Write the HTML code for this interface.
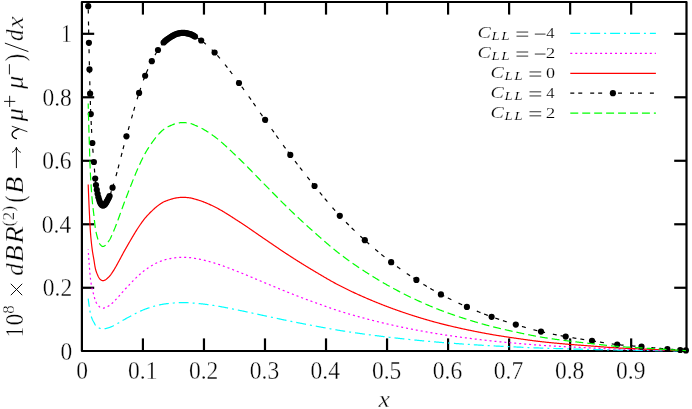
<!DOCTYPE html>
<html><head><meta charset="utf-8"><title>plot</title>
<style>html,body{margin:0;padding:0;background:#fff;}body{width:692px;height:409px;overflow:hidden;position:relative;font-family:"Liberation Serif",serif;}</style>
</head><body>
<svg width="692" height="409" viewBox="0 0 692 409" style="position:absolute;left:0;top:0;will-change:transform">
<rect x="0" y="0" width="692" height="409" fill="#fff"/>
<rect x="81.9" y="2.0" width="604.6" height="349.0" fill="none" stroke="#000" stroke-width="2.2" stroke-linejoin="round"/>
<g stroke="#000" stroke-width="2.2">
<line x1="142.93" y1="351.0" x2="142.93" y2="338.4"/>
<line x1="142.93" y1="2.0" x2="142.93" y2="14.6"/>
<line x1="203.96" y1="351.0" x2="203.96" y2="338.4"/>
<line x1="203.96" y1="2.0" x2="203.96" y2="14.6"/>
<line x1="264.99" y1="351.0" x2="264.99" y2="338.4"/>
<line x1="264.99" y1="2.0" x2="264.99" y2="14.6"/>
<line x1="326.02" y1="351.0" x2="326.02" y2="338.4"/>
<line x1="326.02" y1="2.0" x2="326.02" y2="14.6"/>
<line x1="387.05" y1="351.0" x2="387.05" y2="338.4"/>
<line x1="387.05" y1="2.0" x2="387.05" y2="14.6"/>
<line x1="448.08" y1="351.0" x2="448.08" y2="338.4"/>
<line x1="448.08" y1="2.0" x2="448.08" y2="14.6"/>
<line x1="509.11" y1="351.0" x2="509.11" y2="338.4"/>
<line x1="509.11" y1="2.0" x2="509.11" y2="14.6"/>
<line x1="570.14" y1="351.0" x2="570.14" y2="338.4"/>
<line x1="570.14" y1="2.0" x2="570.14" y2="14.6"/>
<line x1="631.17" y1="351.0" x2="631.17" y2="338.4"/>
<line x1="631.17" y1="2.0" x2="631.17" y2="14.6"/>
<line x1="81.9" y1="287.76" x2="94.2" y2="287.76"/>
<line x1="686.5" y1="287.76" x2="674.2" y2="287.76"/>
<line x1="81.9" y1="224.27" x2="94.2" y2="224.27"/>
<line x1="686.5" y1="224.27" x2="674.2" y2="224.27"/>
<line x1="81.9" y1="160.78" x2="94.2" y2="160.78"/>
<line x1="686.5" y1="160.78" x2="674.2" y2="160.78"/>
<line x1="81.9" y1="97.29" x2="94.2" y2="97.29"/>
<line x1="686.5" y1="97.29" x2="674.2" y2="97.29"/>
<line x1="81.9" y1="33.80" x2="94.2" y2="33.80"/>
<line x1="686.5" y1="33.80" x2="674.2" y2="33.80"/>
</g>
<g fill="none" stroke-width="1.2" stroke-linejoin="round">
<path d="M88.20,298.59 L88.30,299.44 L88.40,300.27 L88.50,301.09 L88.60,301.88 L88.70,302.66 L88.80,303.42 L88.90,304.15 L89.00,304.87 L89.10,305.56 L89.20,306.24 L89.30,306.90 L89.40,307.55 L89.50,308.20 L89.60,308.85 L89.70,309.50 L89.80,310.14 L89.90,310.76 L90.00,311.35 L90.10,311.89 L90.20,312.40 L90.30,312.89 L90.40,313.36 L90.50,313.80 L90.60,314.22 L90.70,314.62 L90.80,314.99 L90.90,315.34 L91.00,315.68 L91.10,316.01 L91.20,316.33 L91.30,316.64 L91.40,316.94 L91.50,317.23 L91.60,317.51 L91.70,317.78 L91.80,318.05 L91.90,318.31 L92.00,318.56 L92.10,318.80 L92.20,319.04 L92.30,319.27 L92.40,319.50 L92.50,319.71 L92.60,319.92 L92.70,320.11 L92.80,320.31 L92.90,320.49 L93.00,320.67 L93.10,320.85 L93.20,321.03 L93.30,321.20 L93.40,321.37 L93.50,321.55 L93.60,321.72 L93.70,321.90 L93.80,322.09 L93.90,322.27 L94.00,322.47 L94.10,322.66 L94.20,322.87 L94.30,323.08 L94.40,323.28 L94.50,323.49 L94.60,323.70 L94.70,323.90 L94.80,324.09 L94.90,324.28 L95.00,324.46 L95.10,324.63 L95.20,324.78 L95.30,324.92 L95.40,325.06 L95.50,325.19 L95.60,325.32 L95.70,325.44 L95.80,325.55 L95.90,325.66 L96.00,325.77 L96.10,325.87 L96.20,325.97 L96.30,326.07 L96.40,326.16 L96.50,326.25 L96.60,326.33 L96.70,326.42 L96.80,326.50 L96.90,326.58 L97.00,326.66 L97.10,326.74 L97.20,326.81 L97.30,326.89 L97.40,326.97 L97.50,327.04 L97.60,327.11 L97.70,327.18 L97.80,327.25 L97.90,327.32 L98.00,327.39 L98.10,327.45 L98.20,327.51 L98.30,327.57 L98.40,327.63 L98.50,327.68 L98.60,327.74 L98.70,327.79 L98.80,327.84 L98.90,327.89 L99.00,327.95 L99.10,328.00 L99.20,328.05 L99.30,328.09 L99.40,328.14 L99.50,328.19 L99.60,328.23 L99.70,328.27 L99.80,328.31 L99.90,328.35 L100.00,328.39 L100.10,328.42 L100.20,328.46 L100.30,328.48 L100.40,328.51 L100.50,328.53 L100.60,328.56 L100.70,328.58 L100.80,328.60 L100.90,328.62 L101.00,328.64 L101.10,328.66 L101.20,328.68 L101.30,328.70 L101.40,328.72 L101.50,328.74 L101.60,328.76 L101.70,328.78 L101.80,328.79 L101.90,328.81 L102.00,328.82 L102.10,328.83 L102.20,328.84 L102.30,328.85 L102.40,328.86 L102.50,328.87 L102.60,328.88 L102.70,328.88 L102.80,328.88 L102.90,328.88 L103.00,328.88 L103.10,328.88 L103.20,328.88 L103.30,328.87 L103.40,328.87 L103.50,328.86 L103.60,328.85 L103.70,328.85 L103.80,328.84 L103.90,328.83 L104.00,328.81 L104.10,328.80 L104.20,328.79 L104.30,328.78 L104.40,328.77 L104.50,328.75 L104.60,328.74 L104.70,328.73 L104.80,328.71 L104.90,328.70 L105.00,328.69 L105.10,328.67 L105.20,328.66 L105.30,328.64 L105.40,328.62 L105.50,328.60 L105.60,328.58 L105.70,328.56 L105.80,328.54 L105.90,328.51 L106.00,328.49 L106.10,328.46 L106.20,328.44 L106.30,328.41 L106.40,328.39 L106.50,328.36 L106.60,328.33 L106.70,328.30 L106.80,328.27 L106.90,328.25 L107.00,328.22 L107.10,328.19 L107.20,328.16 L107.30,328.13 L107.40,328.11 L107.50,328.08 L107.60,328.05 L107.70,328.02 L107.80,328.00 L107.90,327.97 L108.00,327.94 L108.10,327.91 L108.20,327.88 L108.30,327.86 L108.40,327.83 L108.50,327.80 L108.60,327.77 L108.70,327.74 L108.80,327.71 L108.90,327.68 L109.00,327.64 L109.10,327.61 L109.20,327.58 L109.30,327.55 L109.40,327.51 L109.50,327.48 L109.60,327.44 L109.70,327.41 L109.80,327.37 L109.90,327.34 L110.00,327.30 L110.10,327.26 L110.20,327.22 L110.30,327.18 L110.40,327.14 L110.50,327.10 L110.60,327.06 L110.70,327.02 L110.80,326.98 L110.90,326.93 L111.00,326.89 L111.10,326.84 L111.20,326.80 L111.30,326.76 L111.40,326.71 L111.50,326.66 L111.60,326.62 L111.70,326.57 L111.80,326.53 L111.90,326.48 L112.00,326.43 L112.50,326.19 L113.00,325.95 L113.50,325.71 L114.00,325.45 L114.50,325.19 L115.00,324.93 L115.50,324.66 L116.00,324.39 L116.50,324.11 L117.00,323.83 L117.50,323.54 L118.00,323.25 L118.50,322.96 L119.00,322.67 L119.50,322.38 L120.00,322.08 L120.50,321.79 L121.00,321.49 L121.50,321.20 L122.00,320.90 L122.50,320.61 L123.00,320.32 L123.50,320.03 L124.00,319.74 L124.50,319.45 L125.00,319.17 L125.50,318.89 L126.00,318.61 L126.50,318.34 L127.00,318.07 L127.50,317.80 L128.00,317.53 L128.50,317.25 L129.00,316.98 L129.50,316.71 L130.00,316.44 L130.50,316.17 L131.00,315.90 L131.50,315.63 L132.00,315.36 L132.50,315.10 L133.00,314.83 L133.50,314.57 L134.00,314.31 L134.50,314.05 L135.00,313.79 L135.50,313.53 L136.00,313.28 L136.50,313.03 L137.00,312.78 L137.50,312.53 L138.00,312.29 L138.50,312.05 L139.00,311.82 L139.50,311.58 L140.00,311.35 L140.50,311.12 L141.00,310.90 L141.50,310.67 L142.00,310.45 L142.50,310.23 L143.00,310.02 L143.50,309.81 L144.00,309.61 L144.50,309.41 L145.00,309.22 L145.50,309.03 L146.00,308.85 L146.50,308.67 L147.00,308.49 L147.50,308.32 L148.00,308.15 L148.50,307.99 L149.00,307.82 L149.50,307.66 L150.00,307.50 L150.50,307.35 L151.00,307.19 L151.50,307.04 L152.00,306.89 L152.50,306.74 L153.00,306.59 L153.50,306.45 L154.00,306.30 L154.50,306.16 L155.00,306.02 L155.50,305.88 L156.00,305.75 L156.50,305.62 L157.00,305.49 L157.50,305.37 L158.00,305.25 L158.50,305.13 L159.00,305.02 L159.50,304.90 L160.00,304.79 L160.50,304.69 L161.00,304.58 L161.50,304.48 L162.00,304.38 L162.50,304.29 L163.00,304.21 L163.50,304.12 L164.00,304.05 L164.50,303.97 L165.00,303.91 L165.50,303.84 L166.00,303.78 L166.50,303.72 L167.00,303.66 L167.50,303.60 L168.00,303.55 L168.50,303.49 L169.00,303.44 L169.50,303.39 L170.00,303.34 L170.50,303.29 L171.00,303.24 L171.50,303.19 L172.00,303.15 L172.50,303.11 L173.00,303.06 L173.50,303.02 L174.00,302.98 L174.50,302.94 L175.00,302.90 L175.50,302.87 L176.00,302.84 L176.50,302.81 L177.00,302.79 L177.50,302.77 L178.00,302.75 L178.50,302.73 L179.00,302.71 L179.50,302.69 L180.00,302.67 L180.50,302.66 L181.00,302.65 L181.50,302.64 L182.00,302.64 L182.50,302.63 L183.00,302.63 L183.50,302.64 L184.00,302.64 L184.50,302.65 L185.00,302.66 L185.50,302.67 L186.00,302.68 L186.50,302.69 L187.00,302.71 L187.50,302.72 L188.00,302.74 L188.50,302.76 L189.00,302.78 L189.50,302.79 L190.00,302.81 L190.50,302.84 L191.00,302.87 L191.50,302.90 L192.00,302.94 L192.50,302.98 L193.00,303.03 L193.50,303.07 L194.00,303.12 L194.50,303.16 L195.00,303.21 L195.50,303.25 L196.00,303.29 L196.50,303.34 L197.00,303.38 L197.50,303.43 L198.00,303.48 L198.50,303.52 L199.00,303.57 L199.50,303.62 L200.00,303.68 L200.50,303.73 L201.00,303.78 L201.50,303.84 L202.00,303.89 L202.50,303.95 L203.00,304.01 L203.50,304.07 L204.00,304.13 L204.50,304.19 L205.00,304.26 L205.50,304.32 L206.00,304.38 L206.50,304.45 L207.00,304.52 L207.50,304.59 L208.00,304.65 L208.50,304.72 L209.00,304.79 L209.50,304.86 L210.00,304.94 L210.50,305.01 L211.00,305.08 L211.50,305.16 L212.00,305.23 L212.50,305.31 L213.00,305.38 L213.50,305.46 L214.00,305.53 L214.50,305.61 L215.00,305.69 L215.50,305.77 L216.00,305.85 L216.50,305.93 L217.00,306.02 L217.50,306.10 L218.00,306.18 L218.50,306.27 L219.00,306.36 L219.50,306.44 L220.00,306.53 L220.50,306.62 L221.00,306.71 L221.50,306.80 L222.00,306.89 L222.50,306.99 L223.00,307.08 L223.50,307.17 L224.00,307.27 L224.50,307.36 L225.00,307.46 L225.50,307.56 L226.00,307.65 L226.50,307.75 L227.00,307.85 L227.50,307.95 L228.00,308.04 L228.50,308.14 L229.00,308.24 L229.50,308.34 L230.00,308.44 L230.50,308.54 L231.00,308.64 L231.50,308.74 L232.00,308.85 L232.50,308.95 L233.00,309.05 L233.50,309.15 L234.00,309.25 L234.50,309.35 L235.00,309.45 L235.50,309.56 L236.00,309.66 L236.50,309.76 L237.00,309.86 L237.50,309.96 L238.00,310.06 L238.50,310.16 L239.00,310.26 L239.50,310.36 L240.00,310.47 L240.50,310.57 L241.00,310.67 L241.50,310.77 L242.00,310.88 L242.50,310.98 L243.00,311.08 L243.50,311.19 L244.00,311.29 L244.50,311.40 L245.00,311.50 L245.50,311.61 L246.00,311.72 L246.50,311.82 L247.00,311.93 L247.50,312.04 L248.00,312.15 L248.50,312.25 L249.00,312.36 L249.50,312.47 L250.00,312.58 L250.50,312.69 L251.00,312.79 L251.50,312.90 L252.00,313.01 L252.50,313.12 L253.00,313.23 L253.50,313.34 L254.00,313.45 L254.50,313.56 L255.00,313.67 L255.50,313.78 L256.00,313.89 L256.50,313.99 L257.00,314.10 L257.50,314.21 L258.00,314.32 L258.50,314.43 L259.00,314.54 L259.50,314.65 L260.00,314.76 L260.50,314.87 L261.00,314.98 L261.50,315.08 L262.00,315.19 L262.50,315.30 L263.00,315.41 L263.50,315.52 L264.00,315.62 L264.50,315.73 L265.00,315.84 L265.50,315.94 L266.00,316.05 L266.50,316.16 L267.00,316.26 L267.50,316.37 L268.00,316.48 L268.50,316.58 L269.00,316.69 L269.50,316.80 L270.00,316.91 L270.50,317.01 L271.00,317.12 L271.50,317.23 L272.00,317.34 L272.50,317.44 L273.00,317.55 L273.50,317.66 L274.00,317.76 L274.50,317.87 L275.00,317.98 L275.50,318.09 L276.00,318.19 L276.50,318.30 L277.00,318.41 L277.50,318.51 L278.00,318.62 L278.50,318.73 L279.00,318.83 L279.50,318.94 L280.00,319.05 L280.50,319.15 L281.00,319.26 L281.50,319.37 L282.00,319.47 L282.50,319.58 L283.00,319.68 L283.50,319.79 L284.00,319.89 L284.50,320.00 L285.00,320.10 L285.50,320.21 L286.00,320.31 L286.50,320.41 L287.00,320.52 L287.50,320.62 L288.00,320.72 L288.50,320.83 L289.00,320.93 L289.50,321.03 L290.00,321.13 L290.50,321.23 L291.00,321.33 L291.50,321.44 L292.00,321.54 L292.50,321.64 L293.00,321.74 L293.50,321.84 L294.00,321.94 L294.50,322.04 L295.00,322.14 L295.50,322.24 L296.00,322.34 L296.50,322.44 L297.00,322.54 L297.50,322.64 L298.00,322.74 L298.50,322.83 L299.00,322.93 L299.50,323.03 L300.00,323.13 L300.50,323.23 L301.00,323.33 L301.50,323.42 L302.00,323.52 L302.50,323.62 L303.00,323.72 L303.50,323.81 L304.00,323.91 L304.50,324.01 L305.00,324.10 L305.50,324.20 L306.00,324.30 L306.50,324.39 L307.00,324.49 L307.50,324.59 L308.00,324.68 L308.50,324.78 L309.00,324.87 L309.50,324.97 L310.00,325.06 L310.50,325.16 L311.00,325.25 L311.50,325.35 L312.00,325.44 L312.50,325.54 L313.00,325.63 L313.50,325.72 L314.00,325.82 L314.50,325.91 L315.00,326.00 L315.50,326.10 L316.00,326.19 L316.50,326.28 L317.00,326.38 L317.50,326.47 L318.00,326.57 L318.50,326.66 L319.00,326.75 L319.50,326.85 L320.00,326.94 L320.50,327.03 L321.00,327.12 L321.50,327.22 L322.00,327.31 L322.50,327.40 L323.00,327.50 L323.50,327.59 L324.00,327.68 L324.50,327.77 L325.00,327.86 L325.50,327.96 L326.00,328.05 L326.50,328.14 L327.00,328.23 L327.50,328.32 L328.00,328.41 L328.50,328.50 L329.00,328.59 L329.50,328.68 L330.00,328.77 L330.50,328.86 L331.00,328.95 L331.50,329.04 L332.00,329.13 L332.50,329.21 L333.00,329.30 L333.50,329.39 L334.00,329.48 L334.50,329.56 L335.00,329.65 L335.50,329.73 L336.00,329.82 L336.50,329.90 L337.00,329.99 L337.50,330.07 L338.00,330.15 L338.50,330.24 L339.00,330.32 L339.50,330.40 L340.00,330.48 L340.50,330.56 L341.00,330.64 L341.50,330.72 L342.00,330.80 L342.50,330.88 L343.00,330.96 L343.50,331.04 L344.00,331.12 L344.50,331.20 L345.00,331.28 L345.50,331.35 L346.00,331.43 L346.50,331.51 L347.00,331.59 L347.50,331.66 L348.00,331.74 L348.50,331.82 L349.00,331.89 L349.50,331.97 L350.00,332.04 L350.50,332.12 L351.00,332.19 L351.50,332.27 L352.00,332.34 L352.50,332.41 L353.00,332.49 L353.50,332.56 L354.00,332.63 L354.50,332.71 L355.00,332.78 L355.50,332.85 L356.00,332.92 L356.50,333.00 L357.00,333.07 L357.50,333.14 L358.00,333.21 L358.50,333.28 L359.00,333.35 L359.50,333.42 L360.00,333.49 L360.50,333.56 L361.00,333.63 L361.50,333.70 L362.00,333.77 L362.50,333.84 L363.00,333.91 L363.50,333.98 L364.00,334.05 L364.50,334.12 L365.00,334.19 L365.50,334.25 L366.00,334.32 L366.50,334.39 L367.00,334.46 L367.50,334.52 L368.00,334.59 L368.50,334.66 L369.00,334.73 L369.50,334.79 L370.00,334.86 L370.50,334.93 L371.00,334.99 L371.50,335.06 L372.00,335.12 L372.50,335.19 L373.00,335.25 L373.50,335.32 L374.00,335.39 L374.50,335.45 L375.00,335.51 L375.50,335.58 L376.00,335.64 L376.50,335.71 L377.00,335.77 L377.50,335.84 L378.00,335.90 L378.50,335.96 L379.00,336.02 L379.50,336.09 L380.00,336.15 L380.50,336.21 L381.00,336.28 L381.50,336.34 L382.00,336.40 L382.50,336.46 L383.00,336.52 L383.50,336.58 L384.00,336.64 L384.50,336.71 L385.00,336.77 L385.50,336.83 L386.00,336.89 L386.50,336.95 L387.00,337.01 L387.50,337.07 L388.00,337.13 L388.50,337.18 L389.00,337.24 L389.50,337.30 L390.00,337.36 L390.50,337.42 L391.00,337.48 L391.50,337.54 L392.00,337.59 L392.50,337.65 L393.00,337.71 L393.50,337.77 L394.00,337.82 L394.50,337.88 L395.00,337.94 L395.50,337.99 L396.00,338.05 L396.50,338.10 L397.00,338.16 L397.50,338.22 L398.00,338.27 L398.50,338.33 L399.00,338.38 L399.50,338.44 L400.00,338.49 L400.50,338.55 L401.00,338.60 L401.50,338.66 L402.00,338.71 L402.50,338.76 L403.00,338.82 L403.50,338.87 L404.00,338.93 L404.50,338.98 L405.00,339.03 L405.50,339.08 L406.00,339.14 L406.50,339.19 L407.00,339.24 L407.50,339.29 L408.00,339.35 L408.50,339.40 L409.00,339.45 L409.50,339.50 L410.00,339.55 L410.50,339.60 L411.00,339.65 L411.50,339.71 L412.00,339.76 L412.50,339.81 L413.00,339.86 L413.50,339.91 L414.00,339.96 L414.50,340.01 L415.00,340.06 L415.50,340.10 L416.00,340.15 L416.50,340.20 L417.00,340.25 L417.50,340.30 L418.00,340.35 L418.50,340.40 L419.00,340.44 L419.50,340.49 L420.00,340.54 L420.50,340.59 L421.00,340.64 L421.50,340.68 L422.00,340.73 L422.50,340.78 L423.00,340.83 L423.50,340.87 L424.00,340.92 L424.50,340.97 L425.00,341.01 L425.50,341.06 L426.00,341.10 L426.50,341.15 L427.00,341.20 L427.50,341.24 L428.00,341.29 L428.50,341.33 L429.00,341.38 L429.50,341.42 L430.00,341.47 L430.50,341.51 L431.00,341.56 L431.50,341.60 L432.00,341.65 L432.50,341.69 L433.00,341.73 L433.50,341.78 L434.00,341.82 L434.50,341.86 L435.00,341.91 L435.50,341.95 L436.00,341.99 L436.50,342.03 L437.00,342.08 L437.50,342.12 L438.00,342.16 L438.50,342.20 L439.00,342.24 L439.50,342.28 L440.00,342.32 L440.50,342.36 L441.00,342.40 L441.50,342.45 L442.00,342.49 L442.50,342.53 L443.00,342.56 L443.50,342.60 L444.00,342.64 L444.50,342.68 L445.00,342.72 L445.50,342.76 L446.00,342.80 L446.50,342.84 L447.00,342.88 L447.50,342.92 L448.00,342.95 L448.50,342.99 L449.00,343.03 L449.50,343.07 L450.00,343.11 L450.50,343.14 L451.00,343.18 L451.50,343.22 L452.00,343.25 L452.50,343.29 L453.00,343.33 L453.50,343.36 L454.00,343.40 L454.50,343.44 L455.00,343.47 L455.50,343.51 L456.00,343.55 L456.50,343.58 L457.00,343.62 L457.50,343.65 L458.00,343.69 L458.50,343.72 L459.00,343.76 L459.50,343.79 L460.00,343.83 L460.50,343.86 L461.00,343.90 L461.50,343.93 L462.00,343.97 L462.50,344.00 L463.00,344.03 L463.50,344.07 L464.00,344.10 L464.50,344.14 L465.00,344.17 L465.50,344.20 L466.00,344.24 L466.50,344.27 L467.00,344.30 L467.50,344.34 L468.00,344.37 L468.50,344.40 L469.00,344.44 L469.50,344.47 L470.00,344.50 L470.50,344.53 L471.00,344.57 L471.50,344.60 L472.00,344.63 L472.50,344.66 L473.00,344.69 L473.50,344.73 L474.00,344.76 L474.50,344.79 L475.00,344.82 L475.50,344.85 L476.00,344.89 L476.50,344.92 L477.00,344.95 L477.50,344.98 L478.00,345.01 L478.50,345.04 L479.00,345.07 L479.50,345.10 L480.00,345.13 L480.50,345.16 L481.00,345.19 L481.50,345.22 L482.00,345.25 L482.50,345.28 L483.00,345.31 L483.50,345.34 L484.00,345.37 L484.50,345.40 L485.00,345.43 L485.50,345.46 L486.00,345.49 L486.50,345.52 L487.00,345.55 L487.50,345.57 L488.00,345.60 L488.50,345.63 L489.00,345.66 L489.50,345.69 L490.00,345.71 L490.50,345.74 L491.00,345.77 L491.50,345.80 L492.00,345.82 L492.50,345.85 L493.00,345.88 L493.50,345.90 L494.00,345.93 L494.50,345.96 L495.00,345.98 L495.50,346.01 L496.00,346.04 L496.50,346.06 L497.00,346.09 L497.50,346.11 L498.00,346.14 L498.50,346.16 L499.00,346.19 L499.50,346.21 L500.00,346.24 L500.50,346.26 L501.00,346.29 L501.50,346.31 L502.00,346.34 L502.50,346.36 L503.00,346.39 L503.50,346.41 L504.00,346.44 L504.50,346.46 L505.00,346.48 L505.50,346.51 L506.00,346.53 L506.50,346.56 L507.00,346.58 L507.50,346.60 L508.00,346.63 L508.50,346.65 L509.00,346.67 L509.50,346.70 L510.00,346.72 L510.50,346.74 L511.00,346.77 L511.50,346.79 L512.00,346.81 L512.50,346.84 L513.00,346.86 L513.50,346.88 L514.00,346.91 L514.50,346.93 L515.00,346.95 L515.50,346.97 L516.00,347.00 L516.50,347.02 L517.00,347.04 L517.50,347.06 L518.00,347.09 L518.50,347.11 L519.00,347.13 L519.50,347.16 L520.00,347.18 L520.50,347.20 L521.00,347.22 L521.50,347.25 L522.00,347.27 L522.50,347.29 L523.00,347.31 L523.50,347.33 L524.00,347.36 L524.50,347.38 L525.00,347.40 L525.50,347.42 L526.00,347.45 L526.50,347.47 L527.00,347.49 L527.50,347.51 L528.00,347.53 L528.50,347.55 L529.00,347.58 L529.50,347.60 L530.00,347.62 L530.50,347.64 L531.00,347.66 L531.50,347.68 L532.00,347.70 L532.50,347.72 L533.00,347.74 L533.50,347.76 L534.00,347.78 L534.50,347.80 L535.00,347.82 L535.50,347.84 L536.00,347.86 L536.50,347.88 L537.00,347.90 L537.50,347.92 L538.00,347.94 L538.50,347.96 L539.00,347.98 L539.50,348.00 L540.00,348.02 L540.50,348.03 L541.00,348.05 L541.50,348.07 L542.00,348.09 L542.50,348.10 L543.00,348.12 L543.50,348.14 L544.00,348.16 L544.50,348.17 L545.00,348.19 L545.50,348.21 L546.00,348.22 L546.50,348.24 L547.00,348.26 L547.50,348.27 L548.00,348.29 L548.50,348.31 L549.00,348.32 L549.50,348.34 L550.00,348.35 L550.50,348.37 L551.00,348.38 L551.50,348.40 L552.00,348.42 L552.50,348.43 L553.00,348.45 L553.50,348.46 L554.00,348.48 L554.50,348.49 L555.00,348.51 L555.50,348.52 L556.00,348.54 L556.50,348.55 L557.00,348.57 L557.50,348.58 L558.00,348.60 L558.50,348.61 L559.00,348.62 L559.50,348.64 L560.00,348.65 L560.50,348.67 L561.00,348.68 L561.50,348.70 L562.00,348.71 L562.50,348.72 L563.00,348.74 L563.50,348.75 L564.00,348.76 L564.50,348.78 L565.00,348.79 L565.50,348.81 L566.00,348.82 L566.50,348.83 L567.00,348.85 L567.50,348.86 L568.00,348.87 L568.50,348.89 L569.00,348.90 L569.50,348.91 L570.00,348.92 L570.50,348.94 L571.00,348.95 L571.50,348.96 L572.00,348.98 L572.50,348.99 L573.00,349.00 L573.50,349.01 L574.00,349.03 L574.50,349.04 L575.00,349.05 L575.50,349.06 L576.00,349.07 L576.50,349.09 L577.00,349.10 L577.50,349.11 L578.00,349.12 L578.50,349.13 L579.00,349.15 L579.50,349.16 L580.00,349.17 L580.50,349.18 L581.00,349.19 L581.50,349.20 L582.00,349.22 L582.50,349.23 L583.00,349.24 L583.50,349.25 L584.00,349.26 L584.50,349.27 L585.00,349.29 L585.50,349.30 L586.00,349.31 L586.50,349.32 L587.00,349.33 L587.50,349.34 L588.00,349.36 L588.50,349.37 L589.00,349.38 L589.50,349.39 L590.00,349.40 L590.50,349.41 L591.00,349.43 L591.50,349.44 L592.00,349.45 L592.50,349.46 L593.00,349.47 L593.50,349.49 L594.00,349.50 L594.50,349.51 L595.00,349.52 L595.50,349.53 L596.00,349.55 L596.50,349.56 L597.00,349.57 L597.50,349.58 L598.00,349.60 L598.50,349.61 L599.00,349.62 L599.50,349.63 L600.00,349.65 L600.50,349.66 L601.00,349.67 L601.50,349.68 L602.00,349.70 L602.50,349.71 L603.00,349.72 L603.50,349.73 L604.00,349.75 L604.50,349.76 L605.00,349.77 L605.50,349.78 L606.00,349.79 L606.50,349.81 L607.00,349.82 L607.50,349.83 L608.00,349.84 L608.50,349.85 L609.00,349.86 L609.50,349.87 L610.00,349.89 L610.50,349.90 L611.00,349.91 L611.50,349.92 L612.00,349.93 L612.50,349.94 L613.00,349.95 L613.50,349.96 L614.00,349.97 L614.50,349.98 L615.00,349.99 L615.50,350.00 L616.00,350.01 L616.50,350.02 L617.00,350.02 L617.50,350.03 L618.00,350.04 L618.50,350.05 L619.00,350.06 L619.50,350.06 L620.00,350.07 L620.50,350.08 L621.00,350.09 L621.50,350.09 L622.00,350.10 L622.50,350.11 L623.00,350.12 L623.50,350.12 L624.00,350.13 L624.50,350.14 L625.00,350.14 L625.50,350.15 L626.00,350.16 L626.50,350.16 L627.00,350.17 L627.50,350.17 L628.00,350.18 L628.50,350.19 L629.00,350.19 L629.50,350.20 L630.00,350.20 L630.50,350.21 L631.00,350.22 L631.50,350.22 L632.00,350.23 L632.50,350.23 L633.00,350.24 L633.50,350.25 L634.00,350.25 L634.50,350.26 L635.00,350.26 L635.50,350.27 L636.00,350.28 L636.50,350.28 L637.00,350.29 L637.50,350.30 L638.00,350.30 L638.50,350.31 L639.00,350.31 L639.50,350.32 L640.00,350.33 L640.50,350.33 L641.00,350.34 L641.50,350.35 L642.00,350.35 L642.50,350.36 L643.00,350.37 L643.50,350.37 L644.00,350.38 L644.50,350.39 L645.00,350.39 L645.50,350.40 L646.00,350.41 L646.50,350.41 L647.00,350.42 L647.50,350.43 L648.00,350.43 L648.50,350.44 L649.00,350.45 L649.50,350.46 L650.00,350.46 L650.50,350.47 L651.00,350.48 L651.50,350.48 L652.00,350.49 L652.50,350.50 L653.00,350.50 L653.50,350.51 L654.00,350.52 L654.50,350.52 L655.00,350.53 L655.50,350.54 L656.00,350.55 L656.50,350.55 L657.00,350.56 L657.50,350.57 L658.00,350.57 L658.50,350.58 L659.00,350.59 L659.50,350.59 L660.00,350.60 L660.50,350.61 L661.00,350.61 L661.50,350.62 L662.00,350.63 L662.50,350.63 L663.00,350.64 L663.50,350.65 L664.00,350.65 L664.50,350.66 L665.00,350.67 L665.50,350.67 L666.00,350.68 L666.50,350.68 L667.00,350.69 L667.50,350.70 L668.00,350.70 L668.50,350.71 L669.00,350.72 L669.50,350.72 L670.00,350.73 L670.50,350.73 L671.00,350.74 L671.50,350.75 L672.00,350.75 L672.50,350.76 L673.00,350.76 L673.50,350.77 L674.00,350.78 L674.50,350.78 L675.00,350.79 L675.50,350.79 L676.00,350.80 L676.50,350.81 L677.00,350.81 L677.50,350.82 L678.00,350.82 L678.50,350.83 L679.00,350.83 L679.50,350.84 L680.00,350.85 L680.50,350.85 L681.00,350.86 L681.50,350.86 L682.00,350.87 L682.50,350.87 L683.00,350.88 L683.50,350.88 L684.00,350.89 L684.50,350.89 L685.00,350.90 L685.50,350.90 L685.90,350.91" stroke="#00ffff" stroke-dasharray="9.95 3.98 1.99 3.98" stroke-dashoffset="1.7"/>
<path d="M88.20,249.46 L88.30,251.10 L88.40,252.72 L88.50,254.29 L88.60,255.84 L88.70,257.34 L88.80,258.81 L88.90,260.24 L89.00,261.62 L89.10,262.97 L89.20,264.27 L89.30,265.56 L89.40,266.82 L89.50,268.07 L89.60,269.33 L89.70,270.59 L89.80,271.83 L89.90,273.03 L90.00,274.17 L90.10,275.23 L90.20,276.21 L90.30,277.16 L90.40,278.07 L90.50,278.93 L90.60,279.75 L90.70,280.52 L90.80,281.23 L90.90,281.91 L91.00,282.57 L91.10,283.21 L91.20,283.82 L91.30,284.42 L91.40,285.00 L91.50,285.57 L91.60,286.11 L91.70,286.64 L91.80,287.16 L91.90,287.66 L92.00,288.15 L92.10,288.62 L92.20,289.08 L92.30,289.52 L92.40,289.96 L92.50,290.38 L92.60,290.78 L92.70,291.16 L92.80,291.53 L92.90,291.89 L93.00,292.24 L93.10,292.59 L93.20,292.93 L93.30,293.27 L93.40,293.60 L93.50,293.94 L93.60,294.28 L93.70,294.62 L93.80,294.98 L93.90,295.34 L94.00,295.71 L94.10,296.10 L94.20,296.50 L94.30,296.90 L94.40,297.30 L94.50,297.70 L94.60,298.10 L94.70,298.49 L94.80,298.87 L94.90,299.23 L95.00,299.57 L95.10,299.90 L95.20,300.20 L95.30,300.48 L95.40,300.74 L95.50,301.00 L95.60,301.24 L95.70,301.47 L95.80,301.69 L95.90,301.91 L96.00,302.11 L96.10,302.31 L96.20,302.50 L96.30,302.69 L96.40,302.87 L96.50,303.04 L96.60,303.21 L96.70,303.37 L96.80,303.53 L96.90,303.68 L97.00,303.84 L97.10,303.99 L97.20,304.14 L97.30,304.29 L97.40,304.43 L97.50,304.58 L97.60,304.72 L97.70,304.86 L97.80,304.99 L97.90,305.12 L98.00,305.25 L98.10,305.37 L98.20,305.49 L98.30,305.61 L98.40,305.72 L98.50,305.82 L98.60,305.93 L98.70,306.03 L98.80,306.13 L98.90,306.23 L99.00,306.33 L99.10,306.43 L99.20,306.53 L99.30,306.62 L99.40,306.71 L99.50,306.80 L99.60,306.89 L99.70,306.97 L99.80,307.05 L99.90,307.12 L100.00,307.19 L100.10,307.26 L100.20,307.32 L100.30,307.38 L100.40,307.43 L100.50,307.47 L100.60,307.52 L100.70,307.56 L100.80,307.60 L100.90,307.64 L101.00,307.68 L101.10,307.72 L101.20,307.76 L101.30,307.80 L101.40,307.84 L101.50,307.87 L101.60,307.91 L101.70,307.94 L101.80,307.97 L101.90,308.00 L102.00,308.03 L102.10,308.05 L102.20,308.07 L102.30,308.09 L102.40,308.11 L102.50,308.12 L102.60,308.14 L102.70,308.14 L102.80,308.15 L102.90,308.15 L103.00,308.15 L103.10,308.14 L103.20,308.14 L103.30,308.13 L103.40,308.12 L103.50,308.11 L103.60,308.09 L103.70,308.07 L103.80,308.06 L103.90,308.04 L104.00,308.02 L104.10,307.99 L104.20,307.97 L104.30,307.95 L104.40,307.92 L104.50,307.90 L104.60,307.87 L104.70,307.85 L104.80,307.82 L104.90,307.79 L105.00,307.77 L105.10,307.74 L105.20,307.71 L105.30,307.68 L105.40,307.64 L105.50,307.60 L105.60,307.56 L105.70,307.52 L105.80,307.48 L105.90,307.43 L106.00,307.39 L106.10,307.34 L106.20,307.29 L106.30,307.24 L106.40,307.18 L106.50,307.13 L106.60,307.08 L106.70,307.02 L106.80,306.97 L106.90,306.91 L107.00,306.86 L107.10,306.80 L107.20,306.75 L107.30,306.70 L107.40,306.64 L107.50,306.59 L107.60,306.54 L107.70,306.48 L107.80,306.43 L107.90,306.38 L108.00,306.32 L108.10,306.27 L108.20,306.21 L108.30,306.16 L108.40,306.10 L108.50,306.04 L108.60,305.99 L108.70,305.93 L108.80,305.87 L108.90,305.81 L109.00,305.75 L109.10,305.69 L109.20,305.62 L109.30,305.56 L109.40,305.49 L109.50,305.43 L109.60,305.36 L109.70,305.29 L109.80,305.22 L109.90,305.15 L110.00,305.08 L110.10,305.01 L110.20,304.93 L110.30,304.85 L110.40,304.78 L110.50,304.70 L110.60,304.62 L110.70,304.53 L110.80,304.45 L110.90,304.37 L111.00,304.28 L111.10,304.20 L111.20,304.11 L111.30,304.03 L111.40,303.94 L111.50,303.85 L111.60,303.76 L111.70,303.67 L111.80,303.58 L111.90,303.49 L112.00,303.40 L112.50,302.94 L113.00,302.47 L113.50,301.99 L114.00,301.50 L114.50,301.00 L115.00,300.49 L115.50,299.96 L116.00,299.43 L116.50,298.90 L117.00,298.35 L117.50,297.80 L118.00,297.24 L118.50,296.68 L119.00,296.12 L119.50,295.55 L120.00,294.98 L120.50,294.40 L121.00,293.83 L121.50,293.26 L122.00,292.69 L122.50,292.12 L123.00,291.55 L123.50,290.99 L124.00,290.43 L124.50,289.87 L125.00,289.32 L125.50,288.78 L126.00,288.25 L126.50,287.72 L127.00,287.19 L127.50,286.67 L128.00,286.14 L128.50,285.62 L129.00,285.09 L129.50,284.57 L130.00,284.04 L130.50,283.52 L131.00,282.99 L131.50,282.47 L132.00,281.95 L132.50,281.44 L133.00,280.92 L133.50,280.41 L134.00,279.90 L134.50,279.40 L135.00,278.90 L135.50,278.40 L136.00,277.91 L136.50,277.43 L137.00,276.95 L137.50,276.47 L138.00,276.00 L138.50,275.54 L139.00,275.08 L139.50,274.63 L140.00,274.18 L140.50,273.74 L141.00,273.30 L141.50,272.86 L142.00,272.44 L142.50,272.02 L143.00,271.60 L143.50,271.20 L144.00,270.81 L144.50,270.42 L145.00,270.05 L145.50,269.69 L146.00,269.33 L146.50,268.98 L147.00,268.64 L147.50,268.31 L148.00,267.98 L148.50,267.66 L149.00,267.34 L149.50,267.03 L150.00,266.72 L150.50,266.42 L151.00,266.12 L151.50,265.83 L152.00,265.54 L152.50,265.25 L153.00,264.96 L153.50,264.68 L154.00,264.40 L154.50,264.12 L155.00,263.85 L155.50,263.58 L156.00,263.32 L156.50,263.07 L157.00,262.82 L157.50,262.59 L158.00,262.36 L158.50,262.13 L159.00,261.91 L159.50,261.69 L160.00,261.48 L160.50,261.27 L161.00,261.07 L161.50,260.87 L162.00,260.68 L162.50,260.50 L163.00,260.34 L163.50,260.18 L164.00,260.03 L164.50,259.89 L165.00,259.75 L165.50,259.63 L166.00,259.51 L166.50,259.39 L167.00,259.28 L167.50,259.17 L168.00,259.06 L168.50,258.95 L169.00,258.85 L169.50,258.75 L170.00,258.65 L170.50,258.56 L171.00,258.46 L171.50,258.38 L172.00,258.29 L172.50,258.21 L173.00,258.13 L173.50,258.04 L174.00,257.96 L174.50,257.88 L175.00,257.81 L175.50,257.74 L176.00,257.68 L176.50,257.63 L177.00,257.59 L177.50,257.55 L178.00,257.51 L178.50,257.47 L179.00,257.43 L179.50,257.40 L180.00,257.37 L180.50,257.34 L181.00,257.32 L181.50,257.30 L182.00,257.29 L182.50,257.29 L183.00,257.29 L183.50,257.30 L184.00,257.31 L184.50,257.32 L185.00,257.34 L185.50,257.36 L186.00,257.38 L186.50,257.41 L187.00,257.44 L187.50,257.47 L188.00,257.50 L188.50,257.53 L189.00,257.57 L189.50,257.60 L190.00,257.64 L190.50,257.69 L191.00,257.74 L191.50,257.81 L192.00,257.89 L192.50,257.97 L193.00,258.05 L193.50,258.14 L194.00,258.23 L194.50,258.32 L195.00,258.40 L195.50,258.49 L196.00,258.57 L196.50,258.66 L197.00,258.74 L197.50,258.83 L198.00,258.92 L198.50,259.02 L199.00,259.11 L199.50,259.21 L200.00,259.31 L200.50,259.41 L201.00,259.52 L201.50,259.62 L202.00,259.73 L202.50,259.84 L203.00,259.96 L203.50,260.07 L204.00,260.19 L204.50,260.31 L205.00,260.43 L205.50,260.56 L206.00,260.68 L206.50,260.81 L207.00,260.94 L207.50,261.07 L208.00,261.20 L208.50,261.34 L209.00,261.47 L209.50,261.61 L210.00,261.75 L210.50,261.89 L211.00,262.03 L211.50,262.18 L212.00,262.32 L212.50,262.47 L213.00,262.61 L213.50,262.76 L214.00,262.91 L214.50,263.06 L215.00,263.21 L215.50,263.37 L216.00,263.52 L216.50,263.68 L217.00,263.84 L217.50,264.00 L218.00,264.17 L218.50,264.34 L219.00,264.50 L219.50,264.67 L220.00,264.84 L220.50,265.02 L221.00,265.19 L221.50,265.37 L222.00,265.55 L222.50,265.72 L223.00,265.91 L223.50,266.09 L224.00,266.27 L224.50,266.45 L225.00,266.64 L225.50,266.83 L226.00,267.01 L226.50,267.20 L227.00,267.39 L227.50,267.58 L228.00,267.77 L228.50,267.97 L229.00,268.16 L229.50,268.35 L230.00,268.54 L230.50,268.74 L231.00,268.93 L231.50,269.13 L232.00,269.33 L232.50,269.52 L233.00,269.72 L233.50,269.91 L234.00,270.11 L234.50,270.31 L235.00,270.50 L235.50,270.70 L236.00,270.90 L236.50,271.09 L237.00,271.29 L237.50,271.49 L238.00,271.68 L238.50,271.88 L239.00,272.07 L239.50,272.27 L240.00,272.47 L240.50,272.66 L241.00,272.86 L241.50,273.06 L242.00,273.26 L242.50,273.46 L243.00,273.66 L243.50,273.87 L244.00,274.07 L244.50,274.27 L245.00,274.48 L245.50,274.68 L246.00,274.89 L246.50,275.10 L247.00,275.30 L247.50,275.51 L248.00,275.72 L248.50,275.93 L249.00,276.14 L249.50,276.35 L250.00,276.56 L250.50,276.77 L251.00,276.98 L251.50,277.19 L252.00,277.40 L252.50,277.61 L253.00,277.82 L253.50,278.03 L254.00,278.24 L254.50,278.46 L255.00,278.67 L255.50,278.88 L256.00,279.09 L256.50,279.30 L257.00,279.51 L257.50,279.73 L258.00,279.94 L258.50,280.15 L259.00,280.36 L259.50,280.57 L260.00,280.78 L260.50,280.99 L261.00,281.20 L261.50,281.41 L262.00,281.62 L262.50,281.83 L263.00,282.04 L263.50,282.25 L264.00,282.46 L264.50,282.66 L265.00,282.87 L265.50,283.08 L266.00,283.28 L266.50,283.49 L267.00,283.70 L267.50,283.90 L268.00,284.11 L268.50,284.32 L269.00,284.53 L269.50,284.73 L270.00,284.94 L270.50,285.15 L271.00,285.36 L271.50,285.57 L272.00,285.77 L272.50,285.98 L273.00,286.19 L273.50,286.40 L274.00,286.61 L274.50,286.81 L275.00,287.02 L275.50,287.23 L276.00,287.44 L276.50,287.64 L277.00,287.85 L277.50,288.06 L278.00,288.27 L278.50,288.47 L279.00,288.68 L279.50,288.89 L280.00,289.09 L280.50,289.30 L281.00,289.50 L281.50,289.71 L282.00,289.91 L282.50,290.12 L283.00,290.32 L283.50,290.52 L284.00,290.73 L284.50,290.93 L285.00,291.13 L285.50,291.34 L286.00,291.54 L286.50,291.74 L287.00,291.94 L287.50,292.14 L288.00,292.34 L288.50,292.54 L289.00,292.74 L289.50,292.93 L290.00,293.13 L290.50,293.33 L291.00,293.52 L291.50,293.72 L292.00,293.92 L292.50,294.11 L293.00,294.31 L293.50,294.50 L294.00,294.69 L294.50,294.89 L295.00,295.08 L295.50,295.28 L296.00,295.47 L296.50,295.66 L297.00,295.85 L297.50,296.05 L298.00,296.24 L298.50,296.43 L299.00,296.62 L299.50,296.81 L300.00,297.00 L300.50,297.19 L301.00,297.38 L301.50,297.57 L302.00,297.76 L302.50,297.95 L303.00,298.14 L303.50,298.33 L304.00,298.52 L304.50,298.70 L305.00,298.89 L305.50,299.08 L306.00,299.26 L306.50,299.45 L307.00,299.64 L307.50,299.82 L308.00,300.01 L308.50,300.19 L309.00,300.38 L309.50,300.56 L310.00,300.75 L310.50,300.93 L311.00,301.11 L311.50,301.30 L312.00,301.48 L312.50,301.66 L313.00,301.84 L313.50,302.03 L314.00,302.21 L314.50,302.39 L315.00,302.57 L315.50,302.75 L316.00,302.93 L316.50,303.11 L317.00,303.30 L317.50,303.48 L318.00,303.66 L318.50,303.84 L319.00,304.02 L319.50,304.20 L320.00,304.38 L320.50,304.56 L321.00,304.74 L321.50,304.92 L322.00,305.10 L322.50,305.28 L323.00,305.46 L323.50,305.64 L324.00,305.82 L324.50,306.00 L325.00,306.18 L325.50,306.35 L326.00,306.53 L326.50,306.71 L327.00,306.88 L327.50,307.06 L328.00,307.24 L328.50,307.41 L329.00,307.58 L329.50,307.76 L330.00,307.93 L330.50,308.10 L331.00,308.28 L331.50,308.45 L332.00,308.62 L332.50,308.79 L333.00,308.96 L333.50,309.13 L334.00,309.30 L334.50,309.46 L335.00,309.63 L335.50,309.80 L336.00,309.96 L336.50,310.12 L337.00,310.29 L337.50,310.45 L338.00,310.61 L338.50,310.77 L339.00,310.93 L339.50,311.09 L340.00,311.25 L340.50,311.40 L341.00,311.56 L341.50,311.71 L342.00,311.87 L342.50,312.02 L343.00,312.18 L343.50,312.33 L344.00,312.48 L344.50,312.63 L345.00,312.79 L345.50,312.94 L346.00,313.09 L346.50,313.24 L347.00,313.39 L347.50,313.53 L348.00,313.68 L348.50,313.83 L349.00,313.98 L349.50,314.12 L350.00,314.27 L350.50,314.41 L351.00,314.56 L351.50,314.70 L352.00,314.85 L352.50,314.99 L353.00,315.13 L353.50,315.27 L354.00,315.42 L354.50,315.56 L355.00,315.70 L355.50,315.84 L356.00,315.98 L356.50,316.12 L357.00,316.26 L357.50,316.39 L358.00,316.53 L358.50,316.67 L359.00,316.81 L359.50,316.94 L360.00,317.08 L360.50,317.22 L361.00,317.35 L361.50,317.49 L362.00,317.62 L362.50,317.76 L363.00,317.89 L363.50,318.02 L364.00,318.16 L364.50,318.29 L365.00,318.42 L365.50,318.55 L366.00,318.69 L366.50,318.82 L367.00,318.95 L367.50,319.08 L368.00,319.21 L368.50,319.34 L369.00,319.47 L369.50,319.60 L370.00,319.73 L370.50,319.86 L371.00,319.98 L371.50,320.11 L372.00,320.24 L372.50,320.37 L373.00,320.49 L373.50,320.62 L374.00,320.75 L374.50,320.87 L375.00,321.00 L375.50,321.12 L376.00,321.25 L376.50,321.37 L377.00,321.49 L377.50,321.62 L378.00,321.74 L378.50,321.86 L379.00,321.99 L379.50,322.11 L380.00,322.23 L380.50,322.35 L381.00,322.47 L381.50,322.59 L382.00,322.71 L382.50,322.83 L383.00,322.95 L383.50,323.07 L384.00,323.19 L384.50,323.30 L385.00,323.42 L385.50,323.54 L386.00,323.66 L386.50,323.77 L387.00,323.89 L387.50,324.00 L388.00,324.12 L388.50,324.23 L389.00,324.35 L389.50,324.46 L390.00,324.57 L390.50,324.69 L391.00,324.80 L391.50,324.91 L392.00,325.02 L392.50,325.14 L393.00,325.25 L393.50,325.36 L394.00,325.47 L394.50,325.58 L395.00,325.69 L395.50,325.80 L396.00,325.91 L396.50,326.02 L397.00,326.12 L397.50,326.23 L398.00,326.34 L398.50,326.45 L399.00,326.55 L399.50,326.66 L400.00,326.77 L400.50,326.87 L401.00,326.98 L401.50,327.08 L402.00,327.19 L402.50,327.29 L403.00,327.40 L403.50,327.50 L404.00,327.61 L404.50,327.71 L405.00,327.81 L405.50,327.91 L406.00,328.02 L406.50,328.12 L407.00,328.22 L407.50,328.32 L408.00,328.42 L408.50,328.52 L409.00,328.62 L409.50,328.72 L410.00,328.82 L410.50,328.92 L411.00,329.02 L411.50,329.12 L412.00,329.21 L412.50,329.31 L413.00,329.41 L413.50,329.51 L414.00,329.60 L414.50,329.70 L415.00,329.79 L415.50,329.89 L416.00,329.99 L416.50,330.08 L417.00,330.17 L417.50,330.27 L418.00,330.36 L418.50,330.46 L419.00,330.55 L419.50,330.64 L420.00,330.74 L420.50,330.83 L421.00,330.92 L421.50,331.01 L422.00,331.10 L422.50,331.20 L423.00,331.29 L423.50,331.38 L424.00,331.47 L424.50,331.56 L425.00,331.65 L425.50,331.74 L426.00,331.83 L426.50,331.92 L427.00,332.01 L427.50,332.09 L428.00,332.18 L428.50,332.27 L429.00,332.36 L429.50,332.44 L430.00,332.53 L430.50,332.62 L431.00,332.70 L431.50,332.79 L432.00,332.88 L432.50,332.96 L433.00,333.04 L433.50,333.13 L434.00,333.21 L434.50,333.30 L435.00,333.38 L435.50,333.46 L436.00,333.55 L436.50,333.63 L437.00,333.71 L437.50,333.79 L438.00,333.87 L438.50,333.95 L439.00,334.03 L439.50,334.11 L440.00,334.19 L440.50,334.27 L441.00,334.35 L441.50,334.42 L442.00,334.50 L442.50,334.58 L443.00,334.66 L443.50,334.73 L444.00,334.81 L444.50,334.89 L445.00,334.96 L445.50,335.04 L446.00,335.11 L446.50,335.19 L447.00,335.26 L447.50,335.34 L448.00,335.41 L448.50,335.48 L449.00,335.56 L449.50,335.63 L450.00,335.70 L450.50,335.78 L451.00,335.85 L451.50,335.92 L452.00,335.99 L452.50,336.06 L453.00,336.13 L453.50,336.21 L454.00,336.28 L454.50,336.35 L455.00,336.42 L455.50,336.49 L456.00,336.56 L456.50,336.63 L457.00,336.69 L457.50,336.76 L458.00,336.83 L458.50,336.90 L459.00,336.97 L459.50,337.04 L460.00,337.10 L460.50,337.17 L461.00,337.24 L461.50,337.31 L462.00,337.37 L462.50,337.44 L463.00,337.50 L463.50,337.57 L464.00,337.64 L464.50,337.70 L465.00,337.77 L465.50,337.83 L466.00,337.90 L466.50,337.96 L467.00,338.03 L467.50,338.09 L468.00,338.15 L468.50,338.22 L469.00,338.28 L469.50,338.34 L470.00,338.41 L470.50,338.47 L471.00,338.53 L471.50,338.60 L472.00,338.66 L472.50,338.72 L473.00,338.78 L473.50,338.85 L474.00,338.91 L474.50,338.97 L475.00,339.03 L475.50,339.09 L476.00,339.15 L476.50,339.21 L477.00,339.27 L477.50,339.33 L478.00,339.39 L478.50,339.45 L479.00,339.51 L479.50,339.57 L480.00,339.63 L480.50,339.69 L481.00,339.75 L481.50,339.81 L482.00,339.87 L482.50,339.92 L483.00,339.98 L483.50,340.04 L484.00,340.09 L484.50,340.15 L485.00,340.21 L485.50,340.26 L486.00,340.32 L486.50,340.38 L487.00,340.43 L487.50,340.49 L488.00,340.54 L488.50,340.60 L489.00,340.65 L489.50,340.70 L490.00,340.76 L490.50,340.81 L491.00,340.86 L491.50,340.92 L492.00,340.97 L492.50,341.02 L493.00,341.07 L493.50,341.13 L494.00,341.18 L494.50,341.23 L495.00,341.28 L495.50,341.33 L496.00,341.38 L496.50,341.43 L497.00,341.48 L497.50,341.53 L498.00,341.58 L498.50,341.63 L499.00,341.68 L499.50,341.73 L500.00,341.78 L500.50,341.82 L501.00,341.87 L501.50,341.92 L502.00,341.97 L502.50,342.02 L503.00,342.06 L503.50,342.11 L504.00,342.16 L504.50,342.20 L505.00,342.25 L505.50,342.30 L506.00,342.34 L506.50,342.39 L507.00,342.44 L507.50,342.48 L508.00,342.53 L508.50,342.57 L509.00,342.62 L509.50,342.66 L510.00,342.71 L510.50,342.75 L511.00,342.80 L511.50,342.84 L512.00,342.89 L512.50,342.93 L513.00,342.98 L513.50,343.02 L514.00,343.07 L514.50,343.11 L515.00,343.15 L515.50,343.20 L516.00,343.24 L516.50,343.29 L517.00,343.33 L517.50,343.37 L518.00,343.42 L518.50,343.46 L519.00,343.51 L519.50,343.55 L520.00,343.59 L520.50,343.64 L521.00,343.68 L521.50,343.73 L522.00,343.77 L522.50,343.81 L523.00,343.86 L523.50,343.90 L524.00,343.94 L524.50,343.99 L525.00,344.03 L525.50,344.07 L526.00,344.11 L526.50,344.16 L527.00,344.20 L527.50,344.24 L528.00,344.28 L528.50,344.32 L529.00,344.37 L529.50,344.41 L530.00,344.45 L530.50,344.49 L531.00,344.53 L531.50,344.57 L532.00,344.61 L532.50,344.65 L533.00,344.69 L533.50,344.73 L534.00,344.77 L534.50,344.81 L535.00,344.85 L535.50,344.89 L536.00,344.92 L536.50,344.96 L537.00,345.00 L537.50,345.04 L538.00,345.07 L538.50,345.11 L539.00,345.15 L539.50,345.18 L540.00,345.22 L540.50,345.25 L541.00,345.29 L541.50,345.32 L542.00,345.36 L542.50,345.39 L543.00,345.42 L543.50,345.46 L544.00,345.49 L544.50,345.52 L545.00,345.56 L545.50,345.59 L546.00,345.62 L546.50,345.65 L547.00,345.68 L547.50,345.72 L548.00,345.75 L548.50,345.78 L549.00,345.81 L549.50,345.84 L550.00,345.87 L550.50,345.90 L551.00,345.93 L551.50,345.96 L552.00,345.99 L552.50,346.02 L553.00,346.05 L553.50,346.08 L554.00,346.11 L554.50,346.14 L555.00,346.17 L555.50,346.20 L556.00,346.23 L556.50,346.26 L557.00,346.28 L557.50,346.31 L558.00,346.34 L558.50,346.37 L559.00,346.40 L559.50,346.42 L560.00,346.45 L560.50,346.48 L561.00,346.51 L561.50,346.53 L562.00,346.56 L562.50,346.59 L563.00,346.62 L563.50,346.64 L564.00,346.67 L564.50,346.70 L565.00,346.72 L565.50,346.75 L566.00,346.77 L566.50,346.80 L567.00,346.83 L567.50,346.85 L568.00,346.88 L568.50,346.90 L569.00,346.93 L569.50,346.95 L570.00,346.98 L570.50,347.00 L571.00,347.03 L571.50,347.05 L572.00,347.08 L572.50,347.10 L573.00,347.13 L573.50,347.15 L574.00,347.17 L574.50,347.20 L575.00,347.22 L575.50,347.24 L576.00,347.27 L576.50,347.29 L577.00,347.32 L577.50,347.34 L578.00,347.36 L578.50,347.38 L579.00,347.41 L579.50,347.43 L580.00,347.45 L580.50,347.48 L581.00,347.50 L581.50,347.52 L582.00,347.54 L582.50,347.57 L583.00,347.59 L583.50,347.61 L584.00,347.63 L584.50,347.66 L585.00,347.68 L585.50,347.70 L586.00,347.72 L586.50,347.75 L587.00,347.77 L587.50,347.79 L588.00,347.81 L588.50,347.84 L589.00,347.86 L589.50,347.88 L590.00,347.91 L590.50,347.93 L591.00,347.95 L591.50,347.97 L592.00,348.00 L592.50,348.02 L593.00,348.04 L593.50,348.07 L594.00,348.09 L594.50,348.11 L595.00,348.14 L595.50,348.16 L596.00,348.18 L596.50,348.21 L597.00,348.23 L597.50,348.26 L598.00,348.28 L598.50,348.30 L599.00,348.33 L599.50,348.35 L600.00,348.38 L600.50,348.40 L601.00,348.43 L601.50,348.45 L602.00,348.47 L602.50,348.50 L603.00,348.52 L603.50,348.55 L604.00,348.57 L604.50,348.59 L605.00,348.62 L605.50,348.64 L606.00,348.66 L606.50,348.69 L607.00,348.71 L607.50,348.73 L608.00,348.75 L608.50,348.78 L609.00,348.80 L609.50,348.82 L610.00,348.84 L610.50,348.86 L611.00,348.88 L611.50,348.90 L612.00,348.92 L612.50,348.95 L613.00,348.96 L613.50,348.98 L614.00,349.00 L614.50,349.02 L615.00,349.04 L615.50,349.06 L616.00,349.08 L616.50,349.09 L617.00,349.11 L617.50,349.12 L618.00,349.14 L618.50,349.16 L619.00,349.17 L619.50,349.19 L620.00,349.20 L620.50,349.22 L621.00,349.23 L621.50,349.24 L622.00,349.26 L622.50,349.27 L623.00,349.29 L623.50,349.30 L624.00,349.31 L624.50,349.32 L625.00,349.34 L625.50,349.35 L626.00,349.36 L626.50,349.38 L627.00,349.39 L627.50,349.40 L628.00,349.41 L628.50,349.42 L629.00,349.44 L629.50,349.45 L630.00,349.46 L630.50,349.47 L631.00,349.48 L631.50,349.49 L632.00,349.51 L632.50,349.52 L633.00,349.53 L633.50,349.54 L634.00,349.55 L634.50,349.56 L635.00,349.58 L635.50,349.59 L636.00,349.60 L636.50,349.61 L637.00,349.62 L637.50,349.63 L638.00,349.65 L638.50,349.66 L639.00,349.67 L639.50,349.68 L640.00,349.70 L640.50,349.71 L641.00,349.72 L641.50,349.73 L642.00,349.75 L642.50,349.76 L643.00,349.77 L643.50,349.79 L644.00,349.80 L644.50,349.81 L645.00,349.82 L645.50,349.84 L646.00,349.85 L646.50,349.86 L647.00,349.88 L647.50,349.89 L648.00,349.90 L648.50,349.92 L649.00,349.93 L649.50,349.94 L650.00,349.96 L650.50,349.97 L651.00,349.98 L651.50,350.00 L652.00,350.01 L652.50,350.02 L653.00,350.04 L653.50,350.05 L654.00,350.07 L654.50,350.08 L655.00,350.09 L655.50,350.11 L656.00,350.12 L656.50,350.13 L657.00,350.15 L657.50,350.16 L658.00,350.17 L658.50,350.18 L659.00,350.20 L659.50,350.21 L660.00,350.22 L660.50,350.24 L661.00,350.25 L661.50,350.26 L662.00,350.28 L662.50,350.29 L663.00,350.30 L663.50,350.31 L664.00,350.33 L664.50,350.34 L665.00,350.35 L665.50,350.36 L666.00,350.38 L666.50,350.39 L667.00,350.40 L667.50,350.41 L668.00,350.43 L668.50,350.44 L669.00,350.45 L669.50,350.46 L670.00,350.47 L670.50,350.49 L671.00,350.50 L671.50,350.51 L672.00,350.52 L672.50,350.53 L673.00,350.54 L673.50,350.56 L674.00,350.57 L674.50,350.58 L675.00,350.59 L675.50,350.60 L676.00,350.61 L676.50,350.62 L677.00,350.64 L677.50,350.65 L678.00,350.66 L678.50,350.67 L679.00,350.68 L679.50,350.69 L680.00,350.70 L680.50,350.71 L681.00,350.72 L681.50,350.73 L682.00,350.74 L682.50,350.75 L683.00,350.76 L683.50,350.77 L684.00,350.79 L684.50,350.80 L685.00,350.81 L685.50,350.82 L685.90,350.82" stroke="#ff00ff" stroke-dasharray="1.99 2.98" stroke-dashoffset="1.5"/>
<path d="M88.20,184.46 L88.30,187.17 L88.40,189.81 L88.50,192.40 L88.60,194.92 L88.70,197.39 L88.80,199.80 L88.90,202.14 L89.00,204.41 L89.10,206.62 L89.20,208.76 L89.30,210.87 L89.40,212.94 L89.50,214.99 L89.60,217.05 L89.70,219.12 L89.80,221.16 L89.90,223.13 L90.00,225.00 L90.10,226.72 L90.20,228.34 L90.30,229.89 L90.40,231.38 L90.50,232.80 L90.60,234.14 L90.70,235.40 L90.80,236.58 L90.90,237.69 L91.00,238.77 L91.10,239.81 L91.20,240.83 L91.30,241.81 L91.40,242.76 L91.50,243.69 L91.60,244.58 L91.70,245.45 L91.80,246.30 L91.90,247.12 L92.00,247.91 L92.10,248.69 L92.20,249.44 L92.30,250.18 L92.40,250.89 L92.50,251.57 L92.60,252.23 L92.70,252.86 L92.80,253.47 L92.90,254.06 L93.00,254.64 L93.10,255.20 L93.20,255.76 L93.30,256.31 L93.40,256.86 L93.50,257.42 L93.60,257.97 L93.70,258.54 L93.80,259.12 L93.90,259.71 L94.00,260.33 L94.10,260.96 L94.20,261.61 L94.30,262.27 L94.40,262.93 L94.50,263.59 L94.60,264.24 L94.70,264.88 L94.80,265.50 L94.90,266.09 L95.00,266.66 L95.10,267.19 L95.20,267.68 L95.30,268.14 L95.40,268.58 L95.50,268.99 L95.60,269.39 L95.70,269.77 L95.80,270.13 L95.90,270.48 L96.00,270.82 L96.10,271.15 L96.20,271.46 L96.30,271.77 L96.40,272.06 L96.50,272.34 L96.60,272.62 L96.70,272.88 L96.80,273.14 L96.90,273.39 L97.00,273.65 L97.10,273.90 L97.20,274.14 L97.30,274.39 L97.40,274.63 L97.50,274.86 L97.60,275.09 L97.70,275.32 L97.80,275.54 L97.90,275.76 L98.00,275.97 L98.10,276.17 L98.20,276.36 L98.30,276.55 L98.40,276.73 L98.50,276.91 L98.60,277.08 L98.70,277.24 L98.80,277.41 L98.90,277.58 L99.00,277.74 L99.10,277.90 L99.20,278.06 L99.30,278.21 L99.40,278.36 L99.50,278.51 L99.60,278.65 L99.70,278.78 L99.80,278.91 L99.90,279.04 L100.00,279.15 L100.10,279.26 L100.20,279.36 L100.30,279.45 L100.40,279.54 L100.50,279.61 L100.60,279.68 L100.70,279.75 L100.80,279.82 L100.90,279.89 L101.00,279.96 L101.10,280.02 L101.20,280.09 L101.30,280.15 L101.40,280.21 L101.50,280.27 L101.60,280.32 L101.70,280.38 L101.80,280.43 L101.90,280.48 L102.00,280.52 L102.10,280.56 L102.20,280.60 L102.30,280.63 L102.40,280.66 L102.50,280.68 L102.60,280.70 L102.70,280.71 L102.80,280.72 L102.90,280.72 L103.00,280.72 L103.10,280.71 L103.20,280.70 L103.30,280.69 L103.40,280.67 L103.50,280.65 L103.60,280.63 L103.70,280.60 L103.80,280.57 L103.90,280.54 L104.00,280.50 L104.10,280.47 L104.20,280.43 L104.30,280.39 L104.40,280.35 L104.50,280.31 L104.60,280.27 L104.70,280.22 L104.80,280.18 L104.90,280.14 L105.00,280.10 L105.10,280.05 L105.20,280.00 L105.30,279.95 L105.40,279.89 L105.50,279.83 L105.60,279.76 L105.70,279.69 L105.80,279.62 L105.90,279.55 L106.00,279.47 L106.10,279.39 L106.20,279.31 L106.30,279.22 L106.40,279.14 L106.50,279.05 L106.60,278.96 L106.70,278.87 L106.80,278.79 L106.90,278.70 L107.00,278.61 L107.10,278.52 L107.20,278.43 L107.30,278.34 L107.40,278.25 L107.50,278.16 L107.60,278.08 L107.70,277.99 L107.80,277.90 L107.90,277.82 L108.00,277.73 L108.10,277.64 L108.20,277.55 L108.30,277.45 L108.40,277.36 L108.50,277.27 L108.60,277.17 L108.70,277.08 L108.80,276.98 L108.90,276.88 L109.00,276.78 L109.10,276.68 L109.20,276.58 L109.30,276.47 L109.40,276.37 L109.50,276.26 L109.60,276.15 L109.70,276.04 L109.80,275.92 L109.90,275.81 L110.00,275.69 L110.10,275.57 L110.20,275.44 L110.30,275.32 L110.40,275.19 L110.50,275.06 L110.60,274.93 L110.70,274.79 L110.80,274.66 L110.90,274.52 L111.00,274.38 L111.10,274.24 L111.20,274.10 L111.30,273.96 L111.40,273.81 L111.50,273.67 L111.60,273.52 L111.70,273.38 L111.80,273.23 L111.90,273.08 L112.00,272.93 L112.50,272.18 L113.00,271.41 L113.50,270.63 L114.00,269.82 L114.50,269.00 L115.00,268.15 L115.50,267.30 L116.00,266.43 L116.50,265.55 L117.00,264.65 L117.50,263.75 L118.00,262.83 L118.50,261.91 L119.00,260.99 L119.50,260.05 L120.00,259.12 L120.50,258.18 L121.00,257.24 L121.50,256.30 L122.00,255.36 L122.50,254.43 L123.00,253.50 L123.50,252.57 L124.00,251.66 L124.50,250.75 L125.00,249.85 L125.50,248.96 L126.00,248.08 L126.50,247.21 L127.00,246.35 L127.50,245.49 L128.00,244.63 L128.50,243.77 L129.00,242.90 L129.50,242.04 L130.00,241.18 L130.50,240.32 L131.00,239.47 L131.50,238.61 L132.00,237.76 L132.50,236.91 L133.00,236.07 L133.50,235.23 L134.00,234.40 L134.50,233.57 L135.00,232.75 L135.50,231.94 L136.00,231.13 L136.50,230.33 L137.00,229.55 L137.50,228.77 L138.00,228.00 L138.50,227.24 L139.00,226.49 L139.50,225.75 L140.00,225.01 L140.50,224.28 L141.00,223.56 L141.50,222.85 L142.00,222.15 L142.50,221.46 L143.00,220.79 L143.50,220.12 L144.00,219.48 L144.50,218.85 L145.00,218.23 L145.50,217.64 L146.00,217.06 L146.50,216.49 L147.00,215.93 L147.50,215.38 L148.00,214.84 L148.50,214.31 L149.00,213.80 L149.50,213.28 L150.00,212.78 L150.50,212.29 L151.00,211.80 L151.50,211.31 L152.00,210.84 L152.50,210.36 L153.00,209.89 L153.50,209.43 L154.00,208.97 L154.50,208.51 L155.00,208.07 L155.50,207.63 L156.00,207.21 L156.50,206.79 L157.00,206.39 L157.50,205.99 L158.00,205.62 L158.50,205.25 L159.00,204.88 L159.50,204.53 L160.00,204.18 L160.50,203.83 L161.00,203.50 L161.50,203.18 L162.00,202.87 L162.50,202.58 L163.00,202.30 L163.50,202.04 L164.00,201.80 L164.50,201.57 L165.00,201.35 L165.50,201.14 L166.00,200.94 L166.50,200.75 L167.00,200.57 L167.50,200.38 L168.00,200.21 L168.50,200.03 L169.00,199.86 L169.50,199.70 L170.00,199.54 L170.50,199.38 L171.00,199.23 L171.50,199.09 L172.00,198.95 L172.50,198.81 L173.00,198.68 L173.50,198.54 L174.00,198.41 L174.50,198.28 L175.00,198.16 L175.50,198.05 L176.00,197.95 L176.50,197.87 L177.00,197.80 L177.50,197.73 L178.00,197.67 L178.50,197.60 L179.00,197.54 L179.50,197.49 L180.00,197.44 L180.50,197.39 L181.00,197.36 L181.50,197.33 L182.00,197.32 L182.50,197.31 L183.00,197.31 L183.50,197.32 L184.00,197.34 L184.50,197.36 L185.00,197.39 L185.50,197.42 L186.00,197.46 L186.50,197.50 L187.00,197.55 L187.50,197.60 L188.00,197.65 L188.50,197.70 L189.00,197.76 L189.50,197.82 L190.00,197.88 L190.50,197.96 L191.00,198.05 L191.50,198.17 L192.00,198.29 L192.50,198.42 L193.00,198.56 L193.50,198.70 L194.00,198.85 L194.50,198.99 L195.00,199.13 L195.50,199.27 L196.00,199.41 L196.50,199.55 L197.00,199.69 L197.50,199.84 L198.00,199.99 L198.50,200.14 L199.00,200.30 L199.50,200.46 L200.00,200.62 L200.50,200.79 L201.00,200.96 L201.50,201.13 L202.00,201.31 L202.50,201.50 L203.00,201.68 L203.50,201.87 L204.00,202.07 L204.50,202.26 L205.00,202.46 L205.50,202.67 L206.00,202.87 L206.50,203.08 L207.00,203.30 L207.50,203.51 L208.00,203.73 L208.50,203.95 L209.00,204.17 L209.50,204.40 L210.00,204.62 L210.50,204.86 L211.00,205.09 L211.50,205.32 L212.00,205.56 L212.50,205.80 L213.00,206.04 L213.50,206.28 L214.00,206.53 L214.50,206.77 L215.00,207.02 L215.50,207.28 L216.00,207.53 L216.50,207.79 L217.00,208.06 L217.50,208.32 L218.00,208.59 L218.50,208.86 L219.00,209.14 L219.50,209.42 L220.00,209.70 L220.50,209.98 L221.00,210.27 L221.50,210.56 L222.00,210.85 L222.50,211.14 L223.00,211.44 L223.50,211.74 L224.00,212.04 L224.50,212.34 L225.00,212.64 L225.50,212.95 L226.00,213.26 L226.50,213.57 L227.00,213.88 L227.50,214.19 L228.00,214.50 L228.50,214.82 L229.00,215.13 L229.50,215.45 L230.00,215.77 L230.50,216.09 L231.00,216.41 L231.50,216.73 L232.00,217.05 L232.50,217.37 L233.00,217.69 L233.50,218.01 L234.00,218.34 L234.50,218.66 L235.00,218.98 L235.50,219.30 L236.00,219.63 L236.50,219.95 L237.00,220.27 L237.50,220.59 L238.00,220.92 L238.50,221.24 L239.00,221.56 L239.50,221.88 L240.00,222.20 L240.50,222.52 L241.00,222.85 L241.50,223.17 L242.00,223.50 L242.50,223.83 L243.00,224.16 L243.50,224.50 L244.00,224.83 L244.50,225.16 L245.00,225.50 L245.50,225.84 L246.00,226.17 L246.50,226.51 L247.00,226.85 L247.50,227.19 L248.00,227.53 L248.50,227.88 L249.00,228.22 L249.50,228.56 L250.00,228.91 L250.50,229.25 L251.00,229.60 L251.50,229.94 L252.00,230.29 L252.50,230.63 L253.00,230.98 L253.50,231.33 L254.00,231.67 L254.50,232.02 L255.00,232.37 L255.50,232.72 L256.00,233.06 L256.50,233.41 L257.00,233.76 L257.50,234.11 L258.00,234.45 L258.50,234.80 L259.00,235.15 L259.50,235.49 L260.00,235.84 L260.50,236.18 L261.00,236.53 L261.50,236.87 L262.00,237.22 L262.50,237.56 L263.00,237.90 L263.50,238.24 L264.00,238.58 L264.50,238.92 L265.00,239.26 L265.50,239.60 L266.00,239.94 L266.50,240.28 L267.00,240.62 L267.50,240.96 L268.00,241.30 L268.50,241.64 L269.00,241.98 L269.50,242.32 L270.00,242.66 L270.50,243.00 L271.00,243.34 L271.50,243.68 L272.00,244.03 L272.50,244.37 L273.00,244.71 L273.50,245.05 L274.00,245.39 L274.50,245.73 L275.00,246.07 L275.50,246.41 L276.00,246.75 L276.50,247.09 L277.00,247.43 L277.50,247.77 L278.00,248.11 L278.50,248.45 L279.00,248.79 L279.50,249.13 L280.00,249.47 L280.50,249.80 L281.00,250.14 L281.50,250.48 L282.00,250.81 L282.50,251.15 L283.00,251.48 L283.50,251.82 L284.00,252.15 L284.50,252.48 L285.00,252.81 L285.50,253.15 L286.00,253.48 L286.50,253.81 L287.00,254.13 L287.50,254.46 L288.00,254.79 L288.50,255.12 L289.00,255.44 L289.50,255.77 L290.00,256.09 L290.50,256.41 L291.00,256.73 L291.50,257.06 L292.00,257.38 L292.50,257.70 L293.00,258.02 L293.50,258.34 L294.00,258.66 L294.50,258.97 L295.00,259.29 L295.50,259.61 L296.00,259.93 L296.50,260.24 L297.00,260.56 L297.50,260.87 L298.00,261.19 L298.50,261.50 L299.00,261.81 L299.50,262.13 L300.00,262.44 L300.50,262.75 L301.00,263.06 L301.50,263.37 L302.00,263.69 L302.50,264.00 L303.00,264.30 L303.50,264.61 L304.00,264.92 L304.50,265.23 L305.00,265.54 L305.50,265.84 L306.00,266.15 L306.50,266.46 L307.00,266.76 L307.50,267.07 L308.00,267.37 L308.50,267.67 L309.00,267.98 L309.50,268.28 L310.00,268.58 L310.50,268.88 L311.00,269.18 L311.50,269.48 L312.00,269.78 L312.50,270.08 L313.00,270.38 L313.50,270.68 L314.00,270.98 L314.50,271.28 L315.00,271.57 L315.50,271.87 L316.00,272.17 L316.50,272.46 L317.00,272.76 L317.50,273.06 L318.00,273.35 L318.50,273.65 L319.00,273.95 L319.50,274.25 L320.00,274.54 L320.50,274.84 L321.00,275.13 L321.50,275.43 L322.00,275.72 L322.50,276.02 L323.00,276.31 L323.50,276.61 L324.00,276.90 L324.50,277.19 L325.00,277.48 L325.50,277.78 L326.00,278.07 L326.50,278.36 L327.00,278.65 L327.50,278.94 L328.00,279.22 L328.50,279.51 L329.00,279.80 L329.50,280.08 L330.00,280.37 L330.50,280.65 L331.00,280.93 L331.50,281.21 L332.00,281.49 L332.50,281.77 L333.00,282.05 L333.50,282.33 L334.00,282.60 L334.50,282.88 L335.00,283.15 L335.50,283.42 L336.00,283.69 L336.50,283.96 L337.00,284.23 L337.50,284.49 L338.00,284.76 L338.50,285.02 L339.00,285.28 L339.50,285.54 L340.00,285.80 L340.50,286.06 L341.00,286.31 L341.50,286.57 L342.00,286.82 L342.50,287.08 L343.00,287.33 L343.50,287.58 L344.00,287.83 L344.50,288.08 L345.00,288.33 L345.50,288.57 L346.00,288.82 L346.50,289.07 L347.00,289.31 L347.50,289.55 L348.00,289.80 L348.50,290.04 L349.00,290.28 L349.50,290.52 L350.00,290.76 L350.50,291.00 L351.00,291.23 L351.50,291.47 L352.00,291.70 L352.50,291.94 L353.00,292.17 L353.50,292.41 L354.00,292.64 L354.50,292.87 L355.00,293.10 L355.50,293.33 L356.00,293.56 L356.50,293.79 L357.00,294.02 L357.50,294.24 L358.00,294.47 L358.50,294.70 L359.00,294.92 L359.50,295.15 L360.00,295.37 L360.50,295.59 L361.00,295.82 L361.50,296.04 L362.00,296.26 L362.50,296.48 L363.00,296.70 L363.50,296.92 L364.00,297.14 L364.50,297.35 L365.00,297.57 L365.50,297.79 L366.00,298.00 L366.50,298.22 L367.00,298.43 L367.50,298.65 L368.00,298.86 L368.50,299.08 L369.00,299.29 L369.50,299.50 L370.00,299.71 L370.50,299.92 L371.00,300.13 L371.50,300.34 L372.00,300.55 L372.50,300.76 L373.00,300.97 L373.50,301.18 L374.00,301.38 L374.50,301.59 L375.00,301.79 L375.50,302.00 L376.00,302.20 L376.50,302.41 L377.00,302.61 L377.50,302.81 L378.00,303.01 L378.50,303.21 L379.00,303.41 L379.50,303.61 L380.00,303.81 L380.50,304.01 L381.00,304.21 L381.50,304.41 L382.00,304.60 L382.50,304.80 L383.00,305.00 L383.50,305.19 L384.00,305.38 L384.50,305.58 L385.00,305.77 L385.50,305.96 L386.00,306.15 L386.50,306.34 L387.00,306.53 L387.50,306.72 L388.00,306.91 L388.50,307.10 L389.00,307.29 L389.50,307.47 L390.00,307.66 L390.50,307.85 L391.00,308.03 L391.50,308.21 L392.00,308.40 L392.50,308.58 L393.00,308.76 L393.50,308.94 L394.00,309.13 L394.50,309.31 L395.00,309.49 L395.50,309.67 L396.00,309.84 L396.50,310.02 L397.00,310.20 L397.50,310.38 L398.00,310.55 L398.50,310.73 L399.00,310.91 L399.50,311.08 L400.00,311.26 L400.50,311.43 L401.00,311.60 L401.50,311.78 L402.00,311.95 L402.50,312.12 L403.00,312.29 L403.50,312.46 L404.00,312.63 L404.50,312.80 L405.00,312.97 L405.50,313.14 L406.00,313.30 L406.50,313.47 L407.00,313.64 L407.50,313.80 L408.00,313.97 L408.50,314.13 L409.00,314.30 L409.50,314.46 L410.00,314.62 L410.50,314.79 L411.00,314.95 L411.50,315.11 L412.00,315.27 L412.50,315.43 L413.00,315.59 L413.50,315.75 L414.00,315.91 L414.50,316.06 L415.00,316.22 L415.50,316.38 L416.00,316.53 L416.50,316.69 L417.00,316.84 L417.50,317.00 L418.00,317.15 L418.50,317.31 L419.00,317.46 L419.50,317.61 L420.00,317.76 L420.50,317.92 L421.00,318.07 L421.50,318.22 L422.00,318.37 L422.50,318.52 L423.00,318.67 L423.50,318.82 L424.00,318.97 L424.50,319.12 L425.00,319.26 L425.50,319.41 L426.00,319.56 L426.50,319.70 L427.00,319.85 L427.50,319.99 L428.00,320.14 L428.50,320.28 L429.00,320.43 L429.50,320.57 L430.00,320.71 L430.50,320.85 L431.00,320.99 L431.50,321.13 L432.00,321.27 L432.50,321.41 L433.00,321.55 L433.50,321.69 L434.00,321.83 L434.50,321.97 L435.00,322.10 L435.50,322.24 L436.00,322.37 L436.50,322.51 L437.00,322.64 L437.50,322.77 L438.00,322.91 L438.50,323.04 L439.00,323.17 L439.50,323.30 L440.00,323.43 L440.50,323.56 L441.00,323.69 L441.50,323.82 L442.00,323.94 L442.50,324.07 L443.00,324.20 L443.50,324.32 L444.00,324.45 L444.50,324.57 L445.00,324.70 L445.50,324.82 L446.00,324.94 L446.50,325.07 L447.00,325.19 L447.50,325.31 L448.00,325.43 L448.50,325.55 L449.00,325.67 L449.50,325.79 L450.00,325.91 L450.50,326.03 L451.00,326.15 L451.50,326.27 L452.00,326.39 L452.50,326.50 L453.00,326.62 L453.50,326.74 L454.00,326.85 L454.50,326.97 L455.00,327.08 L455.50,327.20 L456.00,327.31 L456.50,327.42 L457.00,327.54 L457.50,327.65 L458.00,327.76 L458.50,327.88 L459.00,327.99 L459.50,328.10 L460.00,328.21 L460.50,328.32 L461.00,328.43 L461.50,328.54 L462.00,328.65 L462.50,328.76 L463.00,328.87 L463.50,328.97 L464.00,329.08 L464.50,329.19 L465.00,329.30 L465.50,329.40 L466.00,329.51 L466.50,329.62 L467.00,329.72 L467.50,329.83 L468.00,329.93 L468.50,330.04 L469.00,330.14 L469.50,330.24 L470.00,330.35 L470.50,330.45 L471.00,330.55 L471.50,330.66 L472.00,330.76 L472.50,330.86 L473.00,330.96 L473.50,331.07 L474.00,331.17 L474.50,331.27 L475.00,331.37 L475.50,331.47 L476.00,331.57 L476.50,331.67 L477.00,331.77 L477.50,331.87 L478.00,331.96 L478.50,332.06 L479.00,332.16 L479.50,332.26 L480.00,332.35 L480.50,332.45 L481.00,332.55 L481.50,332.64 L482.00,332.74 L482.50,332.83 L483.00,332.93 L483.50,333.02 L484.00,333.12 L484.50,333.21 L485.00,333.30 L485.50,333.39 L486.00,333.48 L486.50,333.58 L487.00,333.67 L487.50,333.76 L488.00,333.85 L488.50,333.94 L489.00,334.03 L489.50,334.11 L490.00,334.20 L490.50,334.29 L491.00,334.38 L491.50,334.46 L492.00,334.55 L492.50,334.64 L493.00,334.72 L493.50,334.81 L494.00,334.89 L494.50,334.97 L495.00,335.06 L495.50,335.14 L496.00,335.22 L496.50,335.31 L497.00,335.39 L497.50,335.47 L498.00,335.55 L498.50,335.63 L499.00,335.71 L499.50,335.79 L500.00,335.87 L500.50,335.95 L501.00,336.03 L501.50,336.11 L502.00,336.19 L502.50,336.26 L503.00,336.34 L503.50,336.42 L504.00,336.50 L504.50,336.57 L505.00,336.65 L505.50,336.73 L506.00,336.80 L506.50,336.88 L507.00,336.95 L507.50,337.03 L508.00,337.10 L508.50,337.18 L509.00,337.25 L509.50,337.33 L510.00,337.40 L510.50,337.48 L511.00,337.55 L511.50,337.62 L512.00,337.70 L512.50,337.77 L513.00,337.84 L513.50,337.92 L514.00,337.99 L514.50,338.06 L515.00,338.13 L515.50,338.21 L516.00,338.28 L516.50,338.35 L517.00,338.42 L517.50,338.49 L518.00,338.57 L518.50,338.64 L519.00,338.71 L519.50,338.78 L520.00,338.85 L520.50,338.93 L521.00,339.00 L521.50,339.07 L522.00,339.14 L522.50,339.21 L523.00,339.28 L523.50,339.35 L524.00,339.42 L524.50,339.49 L525.00,339.57 L525.50,339.64 L526.00,339.71 L526.50,339.78 L527.00,339.84 L527.50,339.91 L528.00,339.98 L528.50,340.05 L529.00,340.12 L529.50,340.19 L530.00,340.25 L530.50,340.32 L531.00,340.39 L531.50,340.46 L532.00,340.52 L532.50,340.59 L533.00,340.65 L533.50,340.72 L534.00,340.78 L534.50,340.85 L535.00,340.91 L535.50,340.97 L536.00,341.03 L536.50,341.10 L537.00,341.16 L537.50,341.22 L538.00,341.28 L538.50,341.34 L539.00,341.40 L539.50,341.46 L540.00,341.52 L540.50,341.57 L541.00,341.63 L541.50,341.69 L542.00,341.74 L542.50,341.80 L543.00,341.85 L543.50,341.91 L544.00,341.96 L544.50,342.02 L545.00,342.07 L545.50,342.12 L546.00,342.18 L546.50,342.23 L547.00,342.28 L547.50,342.33 L548.00,342.39 L548.50,342.44 L549.00,342.49 L549.50,342.54 L550.00,342.59 L550.50,342.64 L551.00,342.69 L551.50,342.74 L552.00,342.79 L552.50,342.84 L553.00,342.89 L553.50,342.93 L554.00,342.98 L554.50,343.03 L555.00,343.08 L555.50,343.13 L556.00,343.17 L556.50,343.22 L557.00,343.27 L557.50,343.31 L558.00,343.36 L558.50,343.40 L559.00,343.45 L559.50,343.50 L560.00,343.54 L560.50,343.59 L561.00,343.63 L561.50,343.68 L562.00,343.72 L562.50,343.77 L563.00,343.81 L563.50,343.85 L564.00,343.90 L564.50,343.94 L565.00,343.98 L565.50,344.03 L566.00,344.07 L566.50,344.11 L567.00,344.16 L567.50,344.20 L568.00,344.24 L568.50,344.28 L569.00,344.32 L569.50,344.36 L570.00,344.41 L570.50,344.45 L571.00,344.49 L571.50,344.53 L572.00,344.57 L572.50,344.61 L573.00,344.65 L573.50,344.69 L574.00,344.72 L574.50,344.76 L575.00,344.80 L575.50,344.84 L576.00,344.88 L576.50,344.92 L577.00,344.96 L577.50,344.99 L578.00,345.03 L578.50,345.07 L579.00,345.11 L579.50,345.15 L580.00,345.18 L580.50,345.22 L581.00,345.26 L581.50,345.30 L582.00,345.33 L582.50,345.37 L583.00,345.41 L583.50,345.44 L584.00,345.48 L584.50,345.52 L585.00,345.55 L585.50,345.59 L586.00,345.63 L586.50,345.67 L587.00,345.70 L587.50,345.74 L588.00,345.78 L588.50,345.81 L589.00,345.85 L589.50,345.89 L590.00,345.92 L590.50,345.96 L591.00,346.00 L591.50,346.04 L592.00,346.07 L592.50,346.11 L593.00,346.15 L593.50,346.19 L594.00,346.23 L594.50,346.26 L595.00,346.30 L595.50,346.34 L596.00,346.38 L596.50,346.42 L597.00,346.46 L597.50,346.50 L598.00,346.54 L598.50,346.58 L599.00,346.62 L599.50,346.66 L600.00,346.70 L600.50,346.74 L601.00,346.78 L601.50,346.82 L602.00,346.86 L602.50,346.90 L603.00,346.94 L603.50,346.97 L604.00,347.01 L604.50,347.05 L605.00,347.09 L605.50,347.13 L606.00,347.17 L606.50,347.21 L607.00,347.24 L607.50,347.28 L608.00,347.32 L608.50,347.35 L609.00,347.39 L609.50,347.43 L610.00,347.46 L610.50,347.50 L611.00,347.53 L611.50,347.56 L612.00,347.60 L612.50,347.63 L613.00,347.66 L613.50,347.69 L614.00,347.72 L614.50,347.76 L615.00,347.79 L615.50,347.81 L616.00,347.84 L616.50,347.87 L617.00,347.90 L617.50,347.92 L618.00,347.95 L618.50,347.98 L619.00,348.00 L619.50,348.03 L620.00,348.05 L620.50,348.07 L621.00,348.10 L621.50,348.12 L622.00,348.14 L622.50,348.17 L623.00,348.19 L623.50,348.21 L624.00,348.23 L624.50,348.25 L625.00,348.27 L625.50,348.29 L626.00,348.32 L626.50,348.34 L627.00,348.36 L627.50,348.38 L628.00,348.40 L628.50,348.42 L629.00,348.43 L629.50,348.45 L630.00,348.47 L630.50,348.49 L631.00,348.51 L631.50,348.53 L632.00,348.55 L632.50,348.57 L633.00,348.59 L633.50,348.61 L634.00,348.63 L634.50,348.65 L635.00,348.66 L635.50,348.68 L636.00,348.70 L636.50,348.72 L637.00,348.74 L637.50,348.76 L638.00,348.78 L638.50,348.80 L639.00,348.82 L639.50,348.84 L640.00,348.86 L640.50,348.88 L641.00,348.90 L641.50,348.92 L642.00,348.94 L642.50,348.97 L643.00,348.99 L643.50,349.01 L644.00,349.03 L644.50,349.05 L645.00,349.07 L645.50,349.09 L646.00,349.12 L646.50,349.14 L647.00,349.16 L647.50,349.18 L648.00,349.20 L648.50,349.23 L649.00,349.25 L649.50,349.27 L650.00,349.29 L650.50,349.31 L651.00,349.34 L651.50,349.36 L652.00,349.38 L652.50,349.40 L653.00,349.42 L653.50,349.44 L654.00,349.47 L654.50,349.49 L655.00,349.51 L655.50,349.53 L656.00,349.55 L656.50,349.58 L657.00,349.60 L657.50,349.62 L658.00,349.64 L658.50,349.66 L659.00,349.68 L659.50,349.71 L660.00,349.73 L660.50,349.75 L661.00,349.77 L661.50,349.79 L662.00,349.81 L662.50,349.83 L663.00,349.85 L663.50,349.87 L664.00,349.90 L664.50,349.92 L665.00,349.94 L665.50,349.96 L666.00,349.98 L666.50,350.00 L667.00,350.02 L667.50,350.04 L668.00,350.06 L668.50,350.08 L669.00,350.10 L669.50,350.12 L670.00,350.14 L670.50,350.16 L671.00,350.18 L671.50,350.19 L672.00,350.21 L672.50,350.23 L673.00,350.25 L673.50,350.27 L674.00,350.29 L674.50,350.31 L675.00,350.33 L675.50,350.35 L676.00,350.36 L676.50,350.38 L677.00,350.40 L677.50,350.42 L678.00,350.44 L678.50,350.46 L679.00,350.47 L679.50,350.49 L680.00,350.51 L680.50,350.53 L681.00,350.55 L681.50,350.56 L682.00,350.58 L682.50,350.60 L683.00,350.61 L683.50,350.63 L684.00,350.65 L684.50,350.66 L685.00,350.68 L685.50,350.70 L685.90,350.71" stroke="#ff0000"/>
<path d="M88.20,6.20 L88.30,11.80 L88.40,17.27 L88.50,22.63 L88.60,27.86 L88.70,32.97 L88.80,37.95 L88.90,42.80 L89.00,47.51 L89.10,52.07 L89.20,56.52 L89.30,60.87 L89.40,65.16 L89.50,69.40 L89.60,73.67 L89.70,77.95 L89.80,82.17 L89.90,86.26 L90.00,90.12 L90.10,93.70 L90.20,97.04 L90.30,100.26 L90.40,103.35 L90.50,106.28 L90.60,109.06 L90.70,111.67 L90.80,114.10 L90.90,116.40 L91.00,118.64 L91.10,120.80 L91.20,122.90 L91.30,124.93 L91.40,126.90 L91.50,128.82 L91.60,130.67 L91.70,132.48 L91.80,134.22 L91.90,135.92 L92.00,137.57 L92.10,139.18 L92.20,140.74 L92.30,142.26 L92.40,143.73 L92.50,145.15 L92.60,146.50 L92.70,147.81 L92.80,149.07 L92.90,150.29 L93.00,151.49 L93.10,152.66 L93.20,153.81 L93.30,154.96 L93.40,156.10 L93.50,157.24 L93.60,158.40 L93.70,159.57 L93.80,160.77 L93.90,162.00 L94.00,163.27 L94.10,164.58 L94.20,165.93 L94.30,167.29 L94.40,168.66 L94.50,170.02 L94.60,171.37 L94.70,172.69 L94.80,173.97 L94.90,175.21 L95.00,176.38 L95.10,177.48 L95.20,178.50 L95.30,179.45 L95.40,180.35 L95.50,181.21 L95.60,182.03 L95.70,182.82 L95.80,183.57 L95.90,184.30 L96.00,185.00 L96.10,185.68 L96.20,186.33 L96.30,186.96 L96.40,187.56 L96.50,188.15 L96.60,188.71 L96.70,189.26 L96.80,189.80 L96.90,190.33 L97.00,190.85 L97.10,191.37 L97.20,191.88 L97.30,192.38 L97.40,192.88 L97.50,193.36 L97.60,193.84 L97.70,194.31 L97.80,194.77 L97.90,195.22 L98.00,195.65 L98.10,196.07 L98.20,196.48 L98.30,196.87 L98.40,197.24 L98.50,197.60 L98.60,197.95 L98.70,198.30 L98.80,198.64 L98.90,198.99 L99.00,199.32 L99.10,199.66 L99.20,199.98 L99.30,200.30 L99.40,200.61 L99.50,200.91 L99.60,201.20 L99.70,201.48 L99.80,201.75 L99.90,202.01 L100.00,202.25 L100.10,202.47 L100.20,202.68 L100.30,202.87 L100.40,203.05 L100.50,203.20 L100.60,203.34 L100.70,203.49 L100.80,203.63 L100.90,203.77 L101.00,203.91 L101.10,204.05 L101.20,204.18 L101.30,204.31 L101.40,204.44 L101.50,204.56 L101.60,204.67 L101.70,204.78 L101.80,204.89 L101.90,204.99 L102.00,205.08 L102.10,205.16 L102.20,205.24 L102.30,205.30 L102.40,205.36 L102.50,205.41 L102.60,205.45 L102.70,205.48 L102.80,205.49 L102.90,205.50 L103.00,205.50 L103.10,205.48 L103.20,205.46 L103.30,205.43 L103.40,205.39 L103.50,205.35 L103.60,205.30 L103.70,205.24 L103.80,205.18 L103.90,205.12 L104.00,205.05 L104.10,204.97 L104.20,204.89 L104.30,204.81 L104.40,204.73 L104.50,204.64 L104.60,204.55 L104.70,204.47 L104.80,204.38 L104.90,204.29 L105.00,204.20 L105.10,204.11 L105.20,204.00 L105.30,203.89 L105.40,203.77 L105.50,203.64 L105.60,203.51 L105.70,203.37 L105.80,203.22 L105.90,203.06 L106.00,202.90 L106.10,202.74 L106.20,202.57 L106.30,202.39 L106.40,202.22 L106.50,202.04 L106.60,201.86 L106.70,201.67 L106.80,201.49 L106.90,201.30 L107.00,201.12 L107.10,200.93 L107.20,200.75 L107.30,200.56 L107.40,200.38 L107.50,200.20 L107.60,200.02 L107.70,199.84 L107.80,199.66 L107.90,199.48 L108.00,199.29 L108.10,199.11 L108.20,198.92 L108.30,198.73 L108.40,198.54 L108.50,198.35 L108.60,198.15 L108.70,197.95 L108.80,197.75 L108.90,197.55 L109.00,197.34 L109.10,197.13 L109.20,196.92 L109.30,196.70 L109.40,196.48 L109.50,196.26 L109.60,196.03 L109.70,195.80 L109.80,195.56 L109.90,195.32 L110.00,195.08 L110.10,194.82 L110.20,194.57 L110.30,194.31 L110.40,194.04 L110.50,193.77 L110.60,193.50 L110.70,193.22 L110.80,192.94 L110.90,192.66 L111.00,192.37 L111.10,192.08 L111.20,191.79 L111.30,191.49 L111.40,191.20 L111.50,190.90 L111.60,190.59 L111.70,190.29 L111.80,189.98 L111.90,189.68 L112.00,189.37 L112.50,187.81 L113.00,186.22 L113.50,184.59 L114.00,182.92 L114.50,181.22 L115.00,179.48 L115.50,177.71 L116.00,175.90 L116.50,174.08 L117.00,172.22 L117.50,170.35 L118.00,168.46 L118.50,166.55 L119.00,164.63 L119.50,162.70 L120.00,160.77 L120.50,158.82 L121.00,156.88 L121.50,154.94 L122.00,152.99 L122.50,151.06 L123.00,149.13 L123.50,147.22 L124.00,145.32 L124.50,143.44 L125.00,141.57 L125.50,139.73 L126.00,137.91 L126.50,136.12 L127.00,134.34 L127.50,132.56 L128.00,130.77 L128.50,128.99 L129.00,127.20 L129.50,125.42 L130.00,123.63 L130.50,121.85 L131.00,120.08 L131.50,118.31 L132.00,116.55 L132.50,114.79 L133.00,113.05 L133.50,111.31 L134.00,109.59 L134.50,107.88 L135.00,106.18 L135.50,104.49 L136.00,102.83 L136.50,101.18 L137.00,99.54 L137.50,97.93 L138.00,96.33 L138.50,94.76 L139.00,93.21 L139.50,91.68 L140.00,90.15 L140.50,88.65 L141.00,87.16 L141.50,85.68 L142.00,84.23 L142.50,82.81 L143.00,81.41 L143.50,80.04 L144.00,78.70 L144.50,77.39 L145.00,76.12 L145.50,74.89 L146.00,73.68 L146.50,72.50 L147.00,71.35 L147.50,70.21 L148.00,69.10 L148.50,68.01 L149.00,66.93 L149.50,65.88 L150.00,64.83 L150.50,63.81 L151.00,62.80 L151.50,61.79 L152.00,60.81 L152.50,59.82 L153.00,58.85 L153.50,57.88 L154.00,56.93 L154.50,56.00 L155.00,55.07 L155.50,54.17 L156.00,53.29 L156.50,52.43 L157.00,51.59 L157.50,50.78 L158.00,50.00 L158.50,49.24 L159.00,48.48 L159.50,47.74 L160.00,47.02 L160.50,46.31 L161.00,45.62 L161.50,44.96 L162.00,44.32 L162.50,43.72 L163.00,43.14 L163.50,42.60 L164.00,42.10 L164.50,41.62 L165.00,41.17 L165.50,40.74 L166.00,40.32 L166.50,39.93 L167.00,39.54 L167.50,39.17 L168.00,38.80 L168.50,38.44 L169.00,38.09 L169.50,37.75 L170.00,37.42 L170.50,37.10 L171.00,36.79 L171.50,36.49 L172.00,36.20 L172.50,35.92 L173.00,35.64 L173.50,35.36 L174.00,35.08 L174.50,34.81 L175.00,34.56 L175.50,34.33 L176.00,34.13 L176.50,33.96 L177.00,33.82 L177.50,33.68 L178.00,33.54 L178.50,33.41 L179.00,33.29 L179.50,33.17 L180.00,33.07 L180.50,32.98 L181.00,32.90 L181.50,32.85 L182.00,32.81 L182.50,32.80 L183.00,32.81 L183.50,32.83 L184.00,32.86 L184.50,32.91 L185.00,32.97 L185.50,33.04 L186.00,33.12 L186.50,33.20 L187.00,33.30 L187.50,33.40 L188.00,33.51 L188.50,33.62 L189.00,33.73 L189.50,33.85 L190.00,33.98 L190.50,34.14 L191.00,34.34 L191.50,34.57 L192.00,34.83 L192.50,35.10 L193.00,35.39 L193.50,35.68 L194.00,35.98 L194.50,36.28 L195.00,36.58 L195.50,36.86 L196.00,37.15 L196.50,37.44 L197.00,37.74 L197.50,38.04 L198.00,38.35 L198.50,38.66 L199.00,38.99 L199.50,39.32 L200.00,39.65 L200.50,40.00 L201.00,40.36 L201.50,40.72 L202.00,41.09 L202.50,41.47 L203.00,41.86 L203.50,42.25 L204.00,42.65 L204.50,43.06 L205.00,43.47 L205.50,43.89 L206.00,44.32 L206.50,44.75 L207.00,45.19 L207.50,45.64 L208.00,46.09 L208.50,46.55 L209.00,47.01 L209.50,47.47 L210.00,47.95 L210.50,48.42 L211.00,48.90 L211.50,49.39 L212.00,49.88 L212.50,50.38 L213.00,50.88 L213.50,51.38 L214.00,51.89 L214.50,52.40 L215.00,52.91 L215.50,53.44 L216.00,53.97 L216.50,54.50 L217.00,55.05 L217.50,55.60 L218.00,56.16 L218.50,56.72 L219.00,57.29 L219.50,57.87 L220.00,58.45 L220.50,59.04 L221.00,59.63 L221.50,60.23 L222.00,60.83 L222.50,61.44 L223.00,62.05 L223.50,62.67 L224.00,63.29 L224.50,63.92 L225.00,64.55 L225.50,65.18 L226.00,65.82 L226.50,66.46 L227.00,67.10 L227.50,67.75 L228.00,68.40 L228.50,69.05 L229.00,69.70 L229.50,70.36 L230.00,71.02 L230.50,71.68 L231.00,72.34 L231.50,73.00 L232.00,73.67 L232.50,74.33 L233.00,75.00 L233.50,75.67 L234.00,76.33 L234.50,77.00 L235.00,77.67 L235.50,78.34 L236.00,79.01 L236.50,79.67 L237.00,80.34 L237.50,81.01 L238.00,81.67 L238.50,82.34 L239.00,83.00 L239.50,83.66 L240.00,84.33 L240.50,85.00 L241.00,85.68 L241.50,86.35 L242.00,87.03 L242.50,87.71 L243.00,88.40 L243.50,89.09 L244.00,89.78 L244.50,90.47 L245.00,91.16 L245.50,91.86 L246.00,92.56 L246.50,93.26 L247.00,93.96 L247.50,94.67 L248.00,95.38 L248.50,96.08 L249.00,96.79 L249.50,97.51 L250.00,98.22 L250.50,98.93 L251.00,99.65 L251.50,100.36 L252.00,101.08 L252.50,101.79 L253.00,102.51 L253.50,103.23 L254.00,103.95 L254.50,104.67 L255.00,105.39 L255.50,106.11 L256.00,106.83 L256.50,107.54 L257.00,108.26 L257.50,108.98 L258.00,109.70 L258.50,110.42 L259.00,111.14 L259.50,111.85 L260.00,112.57 L260.50,113.28 L261.00,114.00 L261.50,114.71 L262.00,115.42 L262.50,116.13 L263.00,116.84 L263.50,117.55 L264.00,118.25 L264.50,118.96 L265.00,119.66 L265.50,120.36 L266.00,121.06 L266.50,121.76 L267.00,122.47 L267.50,123.17 L268.00,123.88 L268.50,124.58 L269.00,125.29 L269.50,125.99 L270.00,126.70 L270.50,127.40 L271.00,128.11 L271.50,128.81 L272.00,129.52 L272.50,130.23 L273.00,130.93 L273.50,131.64 L274.00,132.35 L274.50,133.05 L275.00,133.76 L275.50,134.46 L276.00,135.17 L276.50,135.87 L277.00,136.57 L277.50,137.28 L278.00,137.98 L278.50,138.68 L279.00,139.38 L279.50,140.08 L280.00,140.78 L280.50,141.48 L281.00,142.18 L281.50,142.88 L282.00,143.57 L282.50,144.26 L283.00,144.96 L283.50,145.65 L284.00,146.34 L284.50,147.03 L285.00,147.72 L285.50,148.40 L286.00,149.09 L286.50,149.77 L287.00,150.45 L287.50,151.13 L288.00,151.81 L288.50,152.48 L289.00,153.16 L289.50,153.83 L290.00,154.50 L290.50,155.17 L291.00,155.83 L291.50,156.50 L292.00,157.16 L292.50,157.83 L293.00,158.49 L293.50,159.15 L294.00,159.81 L294.50,160.47 L295.00,161.13 L295.50,161.78 L296.00,162.44 L296.50,163.09 L297.00,163.75 L297.50,164.40 L298.00,165.05 L298.50,165.70 L299.00,166.35 L299.50,167.00 L300.00,167.65 L300.50,168.29 L301.00,168.94 L301.50,169.58 L302.00,170.22 L302.50,170.87 L303.00,171.51 L303.50,172.15 L304.00,172.78 L304.50,173.42 L305.00,174.06 L305.50,174.69 L306.00,175.33 L306.50,175.96 L307.00,176.59 L307.50,177.22 L308.00,177.85 L308.50,178.48 L309.00,179.11 L309.50,179.73 L310.00,180.36 L310.50,180.98 L311.00,181.61 L311.50,182.23 L312.00,182.85 L312.50,183.47 L313.00,184.09 L313.50,184.71 L314.00,185.32 L314.50,185.94 L315.00,186.55 L315.50,187.17 L316.00,187.78 L316.50,188.40 L317.00,189.01 L317.50,189.63 L318.00,190.24 L318.50,190.86 L319.00,191.47 L319.50,192.09 L320.00,192.70 L320.50,193.31 L321.00,193.93 L321.50,194.54 L322.00,195.15 L322.50,195.76 L323.00,196.37 L323.50,196.98 L324.00,197.58 L324.50,198.19 L325.00,198.79 L325.50,199.40 L326.00,200.00 L326.50,200.60 L327.00,201.20 L327.50,201.80 L328.00,202.39 L328.50,202.99 L329.00,203.58 L329.50,204.17 L330.00,204.76 L330.50,205.35 L331.00,205.93 L331.50,206.51 L332.00,207.09 L332.50,207.67 L333.00,208.25 L333.50,208.82 L334.00,209.39 L334.50,209.96 L335.00,210.52 L335.50,211.09 L336.00,211.65 L336.50,212.20 L337.00,212.76 L337.50,213.31 L338.00,213.86 L338.50,214.40 L339.00,214.94 L339.50,215.48 L340.00,216.01 L340.50,216.55 L341.00,217.08 L341.50,217.60 L342.00,218.13 L342.50,218.65 L343.00,219.18 L343.50,219.69 L344.00,220.21 L344.50,220.73 L345.00,221.24 L345.50,221.75 L346.00,222.26 L346.50,222.77 L347.00,223.28 L347.50,223.78 L348.00,224.28 L348.50,224.78 L349.00,225.28 L349.50,225.78 L350.00,226.27 L350.50,226.77 L351.00,227.26 L351.50,227.75 L352.00,228.24 L352.50,228.72 L353.00,229.21 L353.50,229.69 L354.00,230.17 L354.50,230.65 L355.00,231.13 L355.50,231.60 L356.00,232.08 L356.50,232.55 L357.00,233.02 L357.50,233.49 L358.00,233.96 L358.50,234.43 L359.00,234.90 L359.50,235.36 L360.00,235.82 L360.50,236.29 L361.00,236.75 L361.50,237.20 L362.00,237.66 L362.50,238.12 L363.00,238.57 L363.50,239.03 L364.00,239.48 L364.50,239.93 L365.00,240.38 L365.50,240.83 L366.00,241.28 L366.50,241.72 L367.00,242.17 L367.50,242.61 L368.00,243.05 L368.50,243.50 L369.00,243.94 L369.50,244.37 L370.00,244.81 L370.50,245.25 L371.00,245.68 L371.50,246.12 L372.00,246.55 L372.50,246.98 L373.00,247.41 L373.50,247.84 L374.00,248.27 L374.50,248.70 L375.00,249.12 L375.50,249.55 L376.00,249.97 L376.50,250.39 L377.00,250.81 L377.50,251.23 L378.00,251.65 L378.50,252.06 L379.00,252.48 L379.50,252.89 L380.00,253.31 L380.50,253.72 L381.00,254.13 L381.50,254.54 L382.00,254.94 L382.50,255.35 L383.00,255.75 L383.50,256.16 L384.00,256.56 L384.50,256.96 L385.00,257.36 L385.50,257.75 L386.00,258.15 L386.50,258.55 L387.00,258.94 L387.50,259.33 L388.00,259.72 L388.50,260.11 L389.00,260.50 L389.50,260.88 L390.00,261.27 L390.50,261.65 L391.00,262.04 L391.50,262.42 L392.00,262.80 L392.50,263.17 L393.00,263.55 L393.50,263.93 L394.00,264.30 L394.50,264.68 L395.00,265.05 L395.50,265.42 L396.00,265.79 L396.50,266.16 L397.00,266.53 L397.50,266.90 L398.00,267.26 L398.50,267.63 L399.00,267.99 L399.50,268.35 L400.00,268.71 L400.50,269.07 L401.00,269.43 L401.50,269.79 L402.00,270.15 L402.50,270.50 L403.00,270.86 L403.50,271.21 L404.00,271.56 L404.50,271.91 L405.00,272.26 L405.50,272.61 L406.00,272.96 L406.50,273.30 L407.00,273.65 L407.50,273.99 L408.00,274.33 L408.50,274.67 L409.00,275.01 L409.50,275.35 L410.00,275.69 L410.50,276.02 L411.00,276.36 L411.50,276.69 L412.00,277.03 L412.50,277.36 L413.00,277.69 L413.50,278.02 L414.00,278.34 L414.50,278.67 L415.00,279.00 L415.50,279.32 L416.00,279.64 L416.50,279.96 L417.00,280.28 L417.50,280.60 L418.00,280.92 L418.50,281.24 L419.00,281.56 L419.50,281.87 L420.00,282.19 L420.50,282.50 L421.00,282.82 L421.50,283.13 L422.00,283.44 L422.50,283.75 L423.00,284.06 L423.50,284.37 L424.00,284.68 L424.50,284.99 L425.00,285.29 L425.50,285.60 L426.00,285.90 L426.50,286.20 L427.00,286.50 L427.50,286.80 L428.00,287.10 L428.50,287.40 L429.00,287.70 L429.50,287.99 L430.00,288.29 L430.50,288.58 L431.00,288.87 L431.50,289.17 L432.00,289.46 L432.50,289.74 L433.00,290.03 L433.50,290.32 L434.00,290.60 L434.50,290.89 L435.00,291.17 L435.50,291.45 L436.00,291.73 L436.50,292.01 L437.00,292.29 L437.50,292.56 L438.00,292.84 L438.50,293.11 L439.00,293.38 L439.50,293.65 L440.00,293.92 L440.50,294.19 L441.00,294.45 L441.50,294.72 L442.00,294.98 L442.50,295.24 L443.00,295.51 L443.50,295.77 L444.00,296.03 L444.50,296.28 L445.00,296.54 L445.50,296.80 L446.00,297.05 L446.50,297.31 L447.00,297.56 L447.50,297.81 L448.00,298.06 L448.50,298.31 L449.00,298.56 L449.50,298.81 L450.00,299.06 L450.50,299.31 L451.00,299.55 L451.50,299.80 L452.00,300.04 L452.50,300.28 L453.00,300.52 L453.50,300.76 L454.00,301.00 L454.50,301.24 L455.00,301.48 L455.50,301.72 L456.00,301.95 L456.50,302.19 L457.00,302.42 L457.50,302.66 L458.00,302.89 L458.50,303.12 L459.00,303.35 L459.50,303.58 L460.00,303.81 L460.50,304.04 L461.00,304.27 L461.50,304.50 L462.00,304.72 L462.50,304.95 L463.00,305.17 L463.50,305.40 L464.00,305.62 L464.50,305.84 L465.00,306.06 L465.50,306.29 L466.00,306.51 L466.50,306.73 L467.00,306.94 L467.50,307.16 L468.00,307.38 L468.50,307.60 L469.00,307.81 L469.50,308.03 L470.00,308.24 L470.50,308.46 L471.00,308.67 L471.50,308.88 L472.00,309.10 L472.50,309.31 L473.00,309.52 L473.50,309.73 L474.00,309.94 L474.50,310.15 L475.00,310.36 L475.50,310.56 L476.00,310.77 L476.50,310.98 L477.00,311.18 L477.50,311.39 L478.00,311.59 L478.50,311.79 L479.00,312.00 L479.50,312.20 L480.00,312.40 L480.50,312.60 L481.00,312.80 L481.50,312.99 L482.00,313.19 L482.50,313.39 L483.00,313.58 L483.50,313.78 L484.00,313.97 L484.50,314.16 L485.00,314.36 L485.50,314.55 L486.00,314.74 L486.50,314.93 L487.00,315.11 L487.50,315.30 L488.00,315.49 L488.50,315.67 L489.00,315.86 L489.50,316.04 L490.00,316.22 L490.50,316.40 L491.00,316.58 L491.50,316.76 L492.00,316.94 L492.50,317.12 L493.00,317.30 L493.50,317.47 L494.00,317.65 L494.50,317.82 L495.00,317.99 L495.50,318.17 L496.00,318.34 L496.50,318.51 L497.00,318.68 L497.50,318.85 L498.00,319.01 L498.50,319.18 L499.00,319.35 L499.50,319.51 L500.00,319.68 L500.50,319.84 L501.00,320.01 L501.50,320.17 L502.00,320.33 L502.50,320.49 L503.00,320.65 L503.50,320.81 L504.00,320.97 L504.50,321.13 L505.00,321.29 L505.50,321.45 L506.00,321.61 L506.50,321.76 L507.00,321.92 L507.50,322.08 L508.00,322.23 L508.50,322.39 L509.00,322.54 L509.50,322.69 L510.00,322.85 L510.50,323.00 L511.00,323.15 L511.50,323.31 L512.00,323.46 L512.50,323.61 L513.00,323.76 L513.50,323.91 L514.00,324.06 L514.50,324.21 L515.00,324.36 L515.50,324.51 L516.00,324.66 L516.50,324.81 L517.00,324.96 L517.50,325.11 L518.00,325.26 L518.50,325.41 L519.00,325.56 L519.50,325.70 L520.00,325.85 L520.50,326.00 L521.00,326.15 L521.50,326.30 L522.00,326.45 L522.50,326.59 L523.00,326.74 L523.50,326.89 L524.00,327.03 L524.50,327.18 L525.00,327.33 L525.50,327.47 L526.00,327.62 L526.50,327.76 L527.00,327.90 L527.50,328.05 L528.00,328.19 L528.50,328.33 L529.00,328.47 L529.50,328.61 L530.00,328.75 L530.50,328.89 L531.00,329.03 L531.50,329.17 L532.00,329.31 L532.50,329.44 L533.00,329.58 L533.50,329.71 L534.00,329.84 L534.50,329.98 L535.00,330.11 L535.50,330.24 L536.00,330.37 L536.50,330.50 L537.00,330.62 L537.50,330.75 L538.00,330.87 L538.50,331.00 L539.00,331.12 L539.50,331.24 L540.00,331.36 L540.50,331.48 L541.00,331.60 L541.50,331.72 L542.00,331.83 L542.50,331.95 L543.00,332.06 L543.50,332.18 L544.00,332.29 L544.50,332.40 L545.00,332.51 L545.50,332.62 L546.00,332.73 L546.50,332.84 L547.00,332.95 L547.50,333.06 L548.00,333.16 L548.50,333.27 L549.00,333.38 L549.50,333.48 L550.00,333.59 L550.50,333.69 L551.00,333.79 L551.50,333.90 L552.00,334.00 L552.50,334.10 L553.00,334.20 L553.50,334.30 L554.00,334.40 L554.50,334.50 L555.00,334.60 L555.50,334.70 L556.00,334.79 L556.50,334.89 L557.00,334.99 L557.50,335.08 L558.00,335.18 L558.50,335.28 L559.00,335.37 L559.50,335.46 L560.00,335.56 L560.50,335.65 L561.00,335.74 L561.50,335.84 L562.00,335.93 L562.50,336.02 L563.00,336.11 L563.50,336.20 L564.00,336.29 L564.50,336.38 L565.00,336.47 L565.50,336.56 L566.00,336.65 L566.50,336.74 L567.00,336.83 L567.50,336.92 L568.00,337.00 L568.50,337.09 L569.00,337.18 L569.50,337.26 L570.00,337.35 L570.50,337.43 L571.00,337.51 L571.50,337.60 L572.00,337.68 L572.50,337.76 L573.00,337.85 L573.50,337.93 L574.00,338.01 L574.50,338.09 L575.00,338.17 L575.50,338.25 L576.00,338.33 L576.50,338.41 L577.00,338.49 L577.50,338.57 L578.00,338.64 L578.50,338.72 L579.00,338.80 L579.50,338.88 L580.00,338.96 L580.50,339.03 L581.00,339.11 L581.50,339.19 L582.00,339.27 L582.50,339.34 L583.00,339.42 L583.50,339.50 L584.00,339.57 L584.50,339.65 L585.00,339.73 L585.50,339.80 L586.00,339.88 L586.50,339.95 L587.00,340.03 L587.50,340.11 L588.00,340.18 L588.50,340.26 L589.00,340.34 L589.50,340.41 L590.00,340.49 L590.50,340.57 L591.00,340.65 L591.50,340.72 L592.00,340.80 L592.50,340.88 L593.00,340.96 L593.50,341.04 L594.00,341.11 L594.50,341.19 L595.00,341.28 L595.50,341.36 L596.00,341.44 L596.50,341.52 L597.00,341.60 L597.50,341.68 L598.00,341.76 L598.50,341.85 L599.00,341.93 L599.50,342.01 L600.00,342.09 L600.50,342.18 L601.00,342.26 L601.50,342.34 L602.00,342.42 L602.50,342.50 L603.00,342.58 L603.50,342.67 L604.00,342.75 L604.50,342.83 L605.00,342.91 L605.50,342.99 L606.00,343.07 L606.50,343.14 L607.00,343.22 L607.50,343.30 L608.00,343.37 L608.50,343.45 L609.00,343.52 L609.50,343.60 L610.00,343.67 L610.50,343.74 L611.00,343.81 L611.50,343.89 L612.00,343.95 L612.50,344.02 L613.00,344.09 L613.50,344.15 L614.00,344.22 L614.50,344.28 L615.00,344.34 L615.50,344.40 L616.00,344.46 L616.50,344.52 L617.00,344.58 L617.50,344.63 L618.00,344.69 L618.50,344.74 L619.00,344.79 L619.50,344.84 L620.00,344.89 L620.50,344.94 L621.00,344.99 L621.50,345.04 L622.00,345.09 L622.50,345.13 L623.00,345.18 L623.50,345.22 L624.00,345.27 L624.50,345.31 L625.00,345.36 L625.50,345.40 L626.00,345.44 L626.50,345.48 L627.00,345.53 L627.50,345.57 L628.00,345.61 L628.50,345.65 L629.00,345.69 L629.50,345.73 L630.00,345.77 L630.50,345.81 L631.00,345.85 L631.50,345.89 L632.00,345.93 L632.50,345.97 L633.00,346.01 L633.50,346.05 L634.00,346.08 L634.50,346.12 L635.00,346.16 L635.50,346.20 L636.00,346.24 L636.50,346.28 L637.00,346.32 L637.50,346.36 L638.00,346.40 L638.50,346.45 L639.00,346.49 L639.50,346.53 L640.00,346.57 L640.50,346.61 L641.00,346.66 L641.50,346.70 L642.00,346.74 L642.50,346.79 L643.00,346.83 L643.50,346.88 L644.00,346.92 L644.50,346.97 L645.00,347.01 L645.50,347.06 L646.00,347.10 L646.50,347.14 L647.00,347.19 L647.50,347.24 L648.00,347.28 L648.50,347.33 L649.00,347.37 L649.50,347.42 L650.00,347.46 L650.50,347.51 L651.00,347.55 L651.50,347.60 L652.00,347.64 L652.50,347.69 L653.00,347.73 L653.50,347.78 L654.00,347.83 L654.50,347.87 L655.00,347.92 L655.50,347.96 L656.00,348.01 L656.50,348.05 L657.00,348.10 L657.50,348.14 L658.00,348.19 L658.50,348.23 L659.00,348.28 L659.50,348.32 L660.00,348.36 L660.50,348.41 L661.00,348.45 L661.50,348.50 L662.00,348.54 L662.50,348.58 L663.00,348.63 L663.50,348.67 L664.00,348.71 L664.50,348.76 L665.00,348.80 L665.50,348.84 L666.00,348.88 L666.50,348.93 L667.00,348.97 L667.50,349.01 L668.00,349.05 L668.50,349.09 L669.00,349.13 L669.50,349.17 L670.00,349.21 L670.50,349.25 L671.00,349.29 L671.50,349.33 L672.00,349.37 L672.50,349.41 L673.00,349.45 L673.50,349.49 L674.00,349.53 L674.50,349.57 L675.00,349.61 L675.50,349.65 L676.00,349.68 L676.50,349.72 L677.00,349.76 L677.50,349.80 L678.00,349.84 L678.50,349.87 L679.00,349.91 L679.50,349.95 L680.00,349.99 L680.50,350.02 L681.00,350.06 L681.50,350.09 L682.00,350.13 L682.50,350.17 L683.00,350.20 L683.50,350.24 L684.00,350.27 L684.50,350.30 L685.00,350.34 L685.50,350.37 L685.90,350.40" stroke="#000000" stroke-dasharray="3.98 3.98 3.98 7.96" stroke-dashoffset="4.6"/>
<g fill="#000" stroke="none">
<circle cx="88.20" cy="6.20" r="3.1"/>
<circle cx="88.90" cy="42.80" r="3.1"/>
<circle cx="89.50" cy="69.40" r="3.1"/>
<circle cx="90.10" cy="93.70" r="3.1"/>
<circle cx="90.80" cy="114.10" r="3.1"/>
<circle cx="92.35" cy="143.00" r="3.1"/>
<circle cx="93.90" cy="162.00" r="3.1"/>
<circle cx="95.20" cy="178.50" r="3.1"/>
<circle cx="96.00" cy="185.00" r="3.1"/>
<circle cx="112.55" cy="187.65" r="3.1"/>
<circle cx="126.45" cy="136.30" r="3.1"/>
<circle cx="139.10" cy="92.90" r="3.1"/>
<circle cx="145.15" cy="75.75" r="3.1"/>
<circle cx="151.80" cy="61.20" r="3.1"/>
<circle cx="158.00" cy="50.00" r="3.1"/>
<circle cx="163.60" cy="42.50" r="3.1"/>
<circle cx="201.20" cy="40.50" r="3.1"/>
<circle cx="214.60" cy="52.50" r="3.1"/>
<circle cx="239.00" cy="83.00" r="3.1"/>
<circle cx="265.10" cy="119.80" r="3.1"/>
<circle cx="290.30" cy="154.90" r="3.1"/>
<circle cx="314.55" cy="186.00" r="3.1"/>
<circle cx="339.80" cy="215.80" r="3.1"/>
<circle cx="364.80" cy="240.20" r="3.1"/>
<circle cx="391.15" cy="262.15" r="3.1"/>
<circle cx="416.40" cy="279.90" r="3.1"/>
<circle cx="440.90" cy="294.40" r="3.1"/>
<circle cx="466.90" cy="306.90" r="3.1"/>
<circle cx="491.60" cy="316.80" r="3.1"/>
<circle cx="515.80" cy="324.60" r="3.1"/>
<circle cx="541.00" cy="331.60" r="3.1"/>
<circle cx="565.70" cy="336.60" r="3.1"/>
<circle cx="592.00" cy="340.80" r="3.1"/>
<circle cx="617.20" cy="344.60" r="3.1"/>
<circle cx="641.50" cy="346.70" r="3.1"/>
<circle cx="667.40" cy="349.00" r="3.1"/>
<circle cx="680.20" cy="350.00" r="3.1"/>
<circle cx="685.90" cy="350.40" r="3.1"/>
<circle cx="96.80" cy="189.80" r="3.1"/>
<circle cx="97.60" cy="193.84" r="3.1"/>
<circle cx="98.40" cy="197.24" r="3.1"/>
<circle cx="99.20" cy="199.98" r="3.1"/>
<circle cx="100.00" cy="202.25" r="3.1"/>
<circle cx="100.80" cy="203.63" r="3.1"/>
<circle cx="101.60" cy="204.67" r="3.1"/>
<circle cx="102.40" cy="205.36" r="3.1"/>
<circle cx="103.20" cy="205.46" r="3.1"/>
<circle cx="104.00" cy="205.05" r="3.1"/>
<circle cx="104.80" cy="204.38" r="3.1"/>
<circle cx="105.60" cy="203.51" r="3.1"/>
<circle cx="106.40" cy="202.22" r="3.1"/>
<circle cx="107.20" cy="200.75" r="3.1"/>
<circle cx="108.00" cy="199.29" r="3.1"/>
<circle cx="108.80" cy="197.75" r="3.1"/>
<circle cx="109.60" cy="196.03" r="3.1"/>
<circle cx="165.00" cy="41.17" r="3.1"/>
<circle cx="166.50" cy="39.93" r="3.1"/>
<circle cx="168.00" cy="38.80" r="3.1"/>
<circle cx="169.50" cy="37.75" r="3.1"/>
<circle cx="171.00" cy="36.79" r="3.1"/>
<circle cx="172.50" cy="35.92" r="3.1"/>
<circle cx="174.00" cy="35.08" r="3.1"/>
<circle cx="175.50" cy="34.33" r="3.1"/>
<circle cx="177.00" cy="33.82" r="3.1"/>
<circle cx="178.50" cy="33.41" r="3.1"/>
<circle cx="180.00" cy="33.07" r="3.1"/>
<circle cx="181.50" cy="32.85" r="3.1"/>
<circle cx="183.00" cy="32.81" r="3.1"/>
<circle cx="184.50" cy="32.91" r="3.1"/>
<circle cx="186.00" cy="33.12" r="3.1"/>
<circle cx="187.50" cy="33.40" r="3.1"/>
<circle cx="189.00" cy="33.73" r="3.1"/>
<circle cx="190.50" cy="34.14" r="3.1"/>
<circle cx="192.00" cy="34.83" r="3.1"/>
<circle cx="193.50" cy="35.68" r="3.1"/>
<circle cx="195.00" cy="36.58" r="3.1"/>
</g>
<path d="M88.20,103.43 L88.30,107.45 L88.40,111.38 L88.50,115.23 L88.60,118.99 L88.70,122.65 L88.80,126.23 L88.90,129.71 L89.00,133.09 L89.10,136.37 L89.20,139.56 L89.30,142.69 L89.40,145.76 L89.50,148.81 L89.60,151.87 L89.70,154.95 L89.80,157.98 L89.90,160.91 L90.00,163.69 L90.10,166.26 L90.20,168.66 L90.30,170.97 L90.40,173.18 L90.50,175.29 L90.60,177.29 L90.70,179.16 L90.80,180.91 L90.90,182.56 L91.00,184.16 L91.10,185.72 L91.20,187.22 L91.30,188.68 L91.40,190.10 L91.50,191.47 L91.60,192.81 L91.70,194.10 L91.80,195.36 L91.90,196.57 L92.00,197.76 L92.10,198.91 L92.20,200.03 L92.30,201.12 L92.40,202.18 L92.50,203.20 L92.60,204.17 L92.70,205.11 L92.80,206.01 L92.90,206.89 L93.00,207.75 L93.10,208.59 L93.20,209.42 L93.30,210.24 L93.40,211.06 L93.50,211.88 L93.60,212.71 L93.70,213.55 L93.80,214.42 L93.90,215.30 L94.00,216.21 L94.10,217.15 L94.20,218.12 L94.30,219.09 L94.40,220.08 L94.50,221.06 L94.60,222.02 L94.70,222.97 L94.80,223.89 L94.90,224.78 L95.00,225.62 L95.10,226.41 L95.20,227.14 L95.30,227.83 L95.40,228.47 L95.50,229.09 L95.60,229.68 L95.70,230.25 L95.80,230.79 L95.90,231.31 L96.00,231.81 L96.10,232.30 L96.20,232.77 L96.30,233.22 L96.40,233.65 L96.50,234.07 L96.60,234.48 L96.70,234.87 L96.80,235.26 L96.90,235.64 L97.00,236.01 L97.10,236.38 L97.20,236.75 L97.30,237.11 L97.40,237.47 L97.50,237.82 L97.60,238.16 L97.70,238.50 L97.80,238.83 L97.90,239.15 L98.00,239.46 L98.10,239.76 L98.20,240.05 L98.30,240.33 L98.40,240.60 L98.50,240.86 L98.60,241.11 L98.70,241.36 L98.80,241.61 L98.90,241.85 L99.00,242.10 L99.10,242.34 L99.20,242.57 L99.30,242.80 L99.40,243.02 L99.50,243.24 L99.60,243.45 L99.70,243.65 L99.80,243.84 L99.90,244.02 L100.00,244.19 L100.10,244.36 L100.20,244.51 L100.30,244.64 L100.40,244.77 L100.50,244.88 L100.60,244.98 L100.70,245.09 L100.80,245.19 L100.90,245.29 L101.00,245.39 L101.10,245.49 L101.20,245.58 L101.30,245.68 L101.40,245.77 L101.50,245.85 L101.60,245.94 L101.70,246.02 L101.80,246.09 L101.90,246.16 L102.00,246.23 L102.10,246.29 L102.20,246.34 L102.30,246.39 L102.40,246.43 L102.50,246.47 L102.60,246.49 L102.70,246.51 L102.80,246.53 L102.90,246.53 L103.00,246.53 L103.10,246.52 L103.20,246.50 L103.30,246.48 L103.40,246.45 L103.50,246.42 L103.60,246.39 L103.70,246.35 L103.80,246.30 L103.90,246.26 L104.00,246.20 L104.10,246.15 L104.20,246.09 L104.30,246.04 L104.40,245.98 L104.50,245.91 L104.60,245.85 L104.70,245.79 L104.80,245.72 L104.90,245.66 L105.00,245.60 L105.10,245.53 L105.20,245.46 L105.30,245.38 L105.40,245.29 L105.50,245.20 L105.60,245.10 L105.70,245.00 L105.80,244.89 L105.90,244.78 L106.00,244.67 L106.10,244.55 L106.20,244.43 L106.30,244.30 L106.40,244.17 L106.50,244.05 L106.60,243.91 L106.70,243.78 L106.80,243.65 L106.90,243.52 L107.00,243.38 L107.10,243.25 L107.20,243.12 L107.30,242.99 L107.40,242.85 L107.50,242.73 L107.60,242.60 L107.70,242.47 L107.80,242.34 L107.90,242.21 L108.00,242.08 L108.10,241.94 L108.20,241.81 L108.30,241.67 L108.40,241.53 L108.50,241.40 L108.60,241.26 L108.70,241.11 L108.80,240.97 L108.90,240.82 L109.00,240.67 L109.10,240.52 L109.20,240.37 L109.30,240.21 L109.40,240.06 L109.50,239.90 L109.60,239.73 L109.70,239.57 L109.80,239.40 L109.90,239.22 L110.00,239.05 L110.10,238.87 L110.20,238.68 L110.30,238.49 L110.40,238.30 L110.50,238.11 L110.60,237.92 L110.70,237.72 L110.80,237.52 L110.90,237.31 L111.00,237.11 L111.10,236.90 L111.20,236.69 L111.30,236.48 L111.40,236.26 L111.50,236.05 L111.60,235.83 L111.70,235.61 L111.80,235.39 L111.90,235.17 L112.00,234.95 L112.50,233.83 L113.00,232.69 L113.50,231.52 L114.00,230.32 L114.50,229.10 L115.00,227.85 L115.50,226.57 L116.00,225.28 L116.50,223.97 L117.00,222.64 L117.50,221.29 L118.00,219.94 L118.50,218.57 L119.00,217.19 L119.50,215.80 L120.00,214.41 L120.50,213.02 L121.00,211.62 L121.50,210.23 L122.00,208.83 L122.50,207.44 L123.00,206.06 L123.50,204.69 L124.00,203.32 L124.50,201.97 L125.00,200.63 L125.50,199.31 L126.00,198.00 L126.50,196.72 L127.00,195.44 L127.50,194.16 L128.00,192.88 L128.50,191.59 L129.00,190.31 L129.50,189.03 L130.00,187.75 L130.50,186.47 L131.00,185.20 L131.50,183.93 L132.00,182.66 L132.50,181.40 L133.00,180.15 L133.50,178.90 L134.00,177.67 L134.50,176.44 L135.00,175.22 L135.50,174.01 L136.00,172.81 L136.50,171.63 L137.00,170.45 L137.50,169.29 L138.00,168.15 L138.50,167.02 L139.00,165.90 L139.50,164.80 L140.00,163.71 L140.50,162.63 L141.00,161.56 L141.50,160.50 L142.00,159.46 L142.50,158.44 L143.00,157.43 L143.50,156.45 L144.00,155.49 L144.50,154.55 L145.00,153.64 L145.50,152.75 L146.00,151.89 L146.50,151.04 L147.00,150.21 L147.50,149.40 L148.00,148.60 L148.50,147.81 L149.00,147.04 L149.50,146.28 L150.00,145.53 L150.50,144.80 L151.00,144.07 L151.50,143.35 L152.00,142.64 L152.50,141.93 L153.00,141.24 L153.50,140.54 L154.00,139.86 L154.50,139.19 L155.00,138.53 L155.50,137.88 L156.00,137.24 L156.50,136.63 L157.00,136.03 L157.50,135.44 L158.00,134.88 L158.50,134.33 L159.00,133.79 L159.50,133.26 L160.00,132.74 L160.50,132.23 L161.00,131.74 L161.50,131.26 L162.00,130.80 L162.50,130.37 L163.00,129.96 L163.50,129.57 L164.00,129.21 L164.50,128.87 L165.00,128.54 L165.50,128.23 L166.00,127.94 L166.50,127.65 L167.00,127.37 L167.50,127.10 L168.00,126.84 L168.50,126.58 L169.00,126.33 L169.50,126.09 L170.00,125.85 L170.50,125.62 L171.00,125.39 L171.50,125.18 L172.00,124.97 L172.50,124.77 L173.00,124.57 L173.50,124.37 L174.00,124.17 L174.50,123.98 L175.00,123.80 L175.50,123.63 L176.00,123.49 L176.50,123.36 L177.00,123.26 L177.50,123.16 L178.00,123.06 L178.50,122.97 L179.00,122.88 L179.50,122.80 L180.00,122.72 L180.50,122.66 L181.00,122.61 L181.50,122.57 L182.00,122.54 L182.50,122.53 L183.00,122.54 L183.50,122.55 L184.00,122.58 L184.50,122.61 L185.00,122.65 L185.50,122.70 L186.00,122.76 L186.50,122.82 L187.00,122.89 L187.50,122.96 L188.00,123.04 L188.50,123.12 L189.00,123.20 L189.50,123.29 L190.00,123.38 L190.50,123.50 L191.00,123.64 L191.50,123.80 L192.00,123.99 L192.50,124.18 L193.00,124.39 L193.50,124.60 L194.00,124.82 L194.50,125.03 L195.00,125.25 L195.50,125.45 L196.00,125.66 L196.50,125.86 L197.00,126.08 L197.50,126.29 L198.00,126.52 L198.50,126.74 L199.00,126.97 L199.50,127.21 L200.00,127.45 L200.50,127.70 L201.00,127.96 L201.50,128.22 L202.00,128.49 L202.50,128.76 L203.00,129.04 L203.50,129.32 L204.00,129.61 L204.50,129.90 L205.00,130.20 L205.50,130.50 L206.00,130.80 L206.50,131.12 L207.00,131.43 L207.50,131.75 L208.00,132.07 L208.50,132.40 L209.00,132.73 L209.50,133.07 L210.00,133.41 L210.50,133.75 L211.00,134.10 L211.50,134.44 L212.00,134.80 L212.50,135.15 L213.00,135.51 L213.50,135.87 L214.00,136.24 L214.50,136.60 L215.00,136.97 L215.50,137.35 L216.00,137.73 L216.50,138.12 L217.00,138.51 L217.50,138.90 L218.00,139.30 L218.50,139.71 L219.00,140.12 L219.50,140.53 L220.00,140.95 L220.50,141.37 L221.00,141.80 L221.50,142.23 L222.00,142.66 L222.50,143.10 L223.00,143.54 L223.50,143.98 L224.00,144.43 L224.50,144.88 L225.00,145.33 L225.50,145.78 L226.00,146.24 L226.50,146.70 L227.00,147.16 L227.50,147.62 L228.00,148.09 L228.50,148.56 L229.00,149.03 L229.50,149.50 L230.00,149.97 L230.50,150.45 L231.00,150.92 L231.50,151.40 L232.00,151.87 L232.50,152.35 L233.00,152.83 L233.50,153.31 L234.00,153.79 L234.50,154.27 L235.00,154.75 L235.50,155.23 L236.00,155.71 L236.50,156.19 L237.00,156.67 L237.50,157.15 L238.00,157.62 L238.50,158.10 L239.00,158.58 L239.50,159.05 L240.00,159.53 L240.50,160.01 L241.00,160.50 L241.50,160.98 L242.00,161.47 L242.50,161.96 L243.00,162.45 L243.50,162.95 L244.00,163.44 L244.50,163.94 L245.00,164.44 L245.50,164.94 L246.00,165.44 L246.50,165.94 L247.00,166.45 L247.50,166.95 L248.00,167.46 L248.50,167.97 L249.00,168.48 L249.50,168.99 L250.00,169.50 L250.50,170.01 L251.00,170.53 L251.50,171.04 L252.00,171.56 L252.50,172.07 L253.00,172.59 L253.50,173.10 L254.00,173.62 L254.50,174.13 L255.00,174.65 L255.50,175.17 L256.00,175.68 L256.50,176.20 L257.00,176.72 L257.50,177.23 L258.00,177.75 L258.50,178.26 L259.00,178.78 L259.50,179.29 L260.00,179.81 L260.50,180.32 L261.00,180.83 L261.50,181.34 L262.00,181.86 L262.50,182.37 L263.00,182.87 L263.50,183.38 L264.00,183.89 L264.50,184.39 L265.00,184.90 L265.50,185.40 L266.00,185.90 L266.50,186.41 L267.00,186.91 L267.50,187.42 L268.00,187.92 L268.50,188.43 L269.00,188.94 L269.50,189.44 L270.00,189.95 L270.50,190.46 L271.00,190.96 L271.50,191.47 L272.00,191.98 L272.50,192.49 L273.00,192.99 L273.50,193.50 L274.00,194.01 L274.50,194.51 L275.00,195.02 L275.50,195.53 L276.00,196.03 L276.50,196.54 L277.00,197.04 L277.50,197.55 L278.00,198.05 L278.50,198.56 L279.00,199.06 L279.50,199.56 L280.00,200.06 L280.50,200.57 L281.00,201.07 L281.50,201.57 L282.00,202.07 L282.50,202.56 L283.00,203.06 L283.50,203.56 L284.00,204.05 L284.50,204.55 L285.00,205.04 L285.50,205.53 L286.00,206.03 L286.50,206.52 L287.00,207.01 L287.50,207.49 L288.00,207.98 L288.50,208.47 L289.00,208.95 L289.50,209.43 L290.00,209.91 L290.50,210.39 L291.00,210.87 L291.50,211.35 L292.00,211.83 L292.50,212.30 L293.00,212.78 L293.50,213.25 L294.00,213.73 L294.50,214.20 L295.00,214.67 L295.50,215.14 L296.00,215.61 L296.50,216.08 L297.00,216.55 L297.50,217.02 L298.00,217.49 L298.50,217.96 L299.00,218.42 L299.50,218.89 L300.00,219.35 L300.50,219.82 L301.00,220.28 L301.50,220.74 L302.00,221.20 L302.50,221.66 L303.00,222.12 L303.50,222.58 L304.00,223.04 L304.50,223.50 L305.00,223.96 L305.50,224.41 L306.00,224.87 L306.50,225.32 L307.00,225.77 L307.50,226.23 L308.00,226.68 L308.50,227.13 L309.00,227.58 L309.50,228.03 L310.00,228.48 L310.50,228.93 L311.00,229.38 L311.50,229.82 L312.00,230.27 L312.50,230.71 L313.00,231.16 L313.50,231.60 L314.00,232.04 L314.50,232.49 L315.00,232.93 L315.50,233.37 L316.00,233.81 L316.50,234.25 L317.00,234.69 L317.50,235.14 L318.00,235.58 L318.50,236.02 L319.00,236.46 L319.50,236.90 L320.00,237.34 L320.50,237.78 L321.00,238.22 L321.50,238.66 L322.00,239.10 L322.50,239.54 L323.00,239.97 L323.50,240.41 L324.00,240.85 L324.50,241.28 L325.00,241.72 L325.50,242.15 L326.00,242.58 L326.50,243.01 L327.00,243.44 L327.50,243.87 L328.00,244.30 L328.50,244.73 L329.00,245.15 L329.50,245.58 L330.00,246.00 L330.50,246.42 L331.00,246.84 L331.50,247.26 L332.00,247.68 L332.50,248.09 L333.00,248.50 L333.50,248.91 L334.00,249.32 L334.50,249.73 L335.00,250.14 L335.50,250.54 L336.00,250.94 L336.50,251.34 L337.00,251.74 L337.50,252.14 L338.00,252.53 L338.50,252.92 L339.00,253.31 L339.50,253.70 L340.00,254.08 L340.50,254.46 L341.00,254.84 L341.50,255.22 L342.00,255.60 L342.50,255.98 L343.00,256.35 L343.50,256.72 L344.00,257.09 L344.50,257.46 L345.00,257.83 L345.50,258.20 L346.00,258.57 L346.50,258.93 L347.00,259.29 L347.50,259.66 L348.00,260.02 L348.50,260.38 L349.00,260.73 L349.50,261.09 L350.00,261.45 L350.50,261.80 L351.00,262.15 L351.50,262.50 L352.00,262.86 L352.50,263.20 L353.00,263.55 L353.50,263.90 L354.00,264.24 L354.50,264.59 L355.00,264.93 L355.50,265.27 L356.00,265.61 L356.50,265.95 L357.00,266.29 L357.50,266.63 L358.00,266.97 L358.50,267.30 L359.00,267.64 L359.50,267.97 L360.00,268.30 L360.50,268.63 L361.00,268.97 L361.50,269.29 L362.00,269.62 L362.50,269.95 L363.00,270.28 L363.50,270.60 L364.00,270.93 L364.50,271.25 L365.00,271.57 L365.50,271.90 L366.00,272.22 L366.50,272.54 L367.00,272.86 L367.50,273.18 L368.00,273.49 L368.50,273.81 L369.00,274.13 L369.50,274.44 L370.00,274.76 L370.50,275.07 L371.00,275.38 L371.50,275.70 L372.00,276.01 L372.50,276.32 L373.00,276.63 L373.50,276.93 L374.00,277.24 L374.50,277.55 L375.00,277.85 L375.50,278.16 L376.00,278.46 L376.50,278.76 L377.00,279.06 L377.50,279.37 L378.00,279.67 L378.50,279.96 L379.00,280.26 L379.50,280.56 L380.00,280.86 L380.50,281.15 L381.00,281.45 L381.50,281.74 L382.00,282.03 L382.50,282.32 L383.00,282.61 L383.50,282.90 L384.00,283.19 L384.50,283.48 L385.00,283.76 L385.50,284.05 L386.00,284.33 L386.50,284.62 L387.00,284.90 L387.50,285.18 L388.00,285.46 L388.50,285.74 L389.00,286.02 L389.50,286.30 L390.00,286.57 L390.50,286.85 L391.00,287.12 L391.50,287.40 L392.00,287.67 L392.50,287.94 L393.00,288.21 L393.50,288.48 L394.00,288.75 L394.50,289.02 L395.00,289.29 L395.50,289.55 L396.00,289.82 L396.50,290.09 L397.00,290.35 L397.50,290.61 L398.00,290.88 L398.50,291.14 L399.00,291.40 L399.50,291.66 L400.00,291.92 L400.50,292.18 L401.00,292.43 L401.50,292.69 L402.00,292.95 L402.50,293.20 L403.00,293.46 L403.50,293.71 L404.00,293.96 L404.50,294.21 L405.00,294.47 L405.50,294.72 L406.00,294.96 L406.50,295.21 L407.00,295.46 L407.50,295.71 L408.00,295.95 L408.50,296.20 L409.00,296.44 L409.50,296.68 L410.00,296.93 L410.50,297.17 L411.00,297.41 L411.50,297.65 L412.00,297.89 L412.50,298.12 L413.00,298.36 L413.50,298.60 L414.00,298.83 L414.50,299.07 L415.00,299.30 L415.50,299.53 L416.00,299.77 L416.50,300.00 L417.00,300.23 L417.50,300.46 L418.00,300.69 L418.50,300.91 L419.00,301.14 L419.50,301.37 L420.00,301.59 L420.50,301.82 L421.00,302.05 L421.50,302.27 L422.00,302.49 L422.50,302.72 L423.00,302.94 L423.50,303.16 L424.00,303.38 L424.50,303.60 L425.00,303.82 L425.50,304.04 L426.00,304.26 L426.50,304.48 L427.00,304.69 L427.50,304.91 L428.00,305.12 L428.50,305.34 L429.00,305.55 L429.50,305.76 L430.00,305.97 L430.50,306.18 L431.00,306.39 L431.50,306.60 L432.00,306.81 L432.50,307.02 L433.00,307.22 L433.50,307.43 L434.00,307.64 L434.50,307.84 L435.00,308.04 L435.50,308.24 L436.00,308.44 L436.50,308.64 L437.00,308.84 L437.50,309.04 L438.00,309.24 L438.50,309.43 L439.00,309.63 L439.50,309.82 L440.00,310.02 L440.50,310.21 L441.00,310.40 L441.50,310.59 L442.00,310.78 L442.50,310.97 L443.00,311.16 L443.50,311.34 L444.00,311.53 L444.50,311.71 L445.00,311.90 L445.50,312.08 L446.00,312.27 L446.50,312.45 L447.00,312.63 L447.50,312.81 L448.00,312.99 L448.50,313.17 L449.00,313.35 L449.50,313.53 L450.00,313.71 L450.50,313.88 L451.00,314.06 L451.50,314.24 L452.00,314.41 L452.50,314.58 L453.00,314.76 L453.50,314.93 L454.00,315.10 L454.50,315.27 L455.00,315.45 L455.50,315.62 L456.00,315.79 L456.50,315.95 L457.00,316.12 L457.50,316.29 L458.00,316.46 L458.50,316.62 L459.00,316.79 L459.50,316.96 L460.00,317.12 L460.50,317.28 L461.00,317.45 L461.50,317.61 L462.00,317.77 L462.50,317.94 L463.00,318.10 L463.50,318.26 L464.00,318.42 L464.50,318.58 L465.00,318.74 L465.50,318.90 L466.00,319.05 L466.50,319.21 L467.00,319.37 L467.50,319.52 L468.00,319.68 L468.50,319.84 L469.00,319.99 L469.50,320.15 L470.00,320.30 L470.50,320.45 L471.00,320.61 L471.50,320.76 L472.00,320.91 L472.50,321.07 L473.00,321.22 L473.50,321.37 L474.00,321.52 L474.50,321.67 L475.00,321.82 L475.50,321.97 L476.00,322.12 L476.50,322.26 L477.00,322.41 L477.50,322.56 L478.00,322.70 L478.50,322.85 L479.00,322.99 L479.50,323.14 L480.00,323.28 L480.50,323.43 L481.00,323.57 L481.50,323.71 L482.00,323.85 L482.50,323.99 L483.00,324.13 L483.50,324.27 L484.00,324.41 L484.50,324.55 L485.00,324.69 L485.50,324.83 L486.00,324.96 L486.50,325.10 L487.00,325.23 L487.50,325.37 L488.00,325.50 L488.50,325.64 L489.00,325.77 L489.50,325.90 L490.00,326.03 L490.50,326.16 L491.00,326.29 L491.50,326.42 L492.00,326.55 L492.50,326.67 L493.00,326.80 L493.50,326.93 L494.00,327.05 L494.50,327.18 L495.00,327.30 L495.50,327.42 L496.00,327.55 L496.50,327.67 L497.00,327.79 L497.50,327.91 L498.00,328.03 L498.50,328.15 L499.00,328.27 L499.50,328.39 L500.00,328.51 L500.50,328.63 L501.00,328.75 L501.50,328.86 L502.00,328.98 L502.50,329.10 L503.00,329.21 L503.50,329.33 L504.00,329.44 L504.50,329.55 L505.00,329.67 L505.50,329.78 L506.00,329.90 L506.50,330.01 L507.00,330.12 L507.50,330.23 L508.00,330.34 L508.50,330.45 L509.00,330.57 L509.50,330.68 L510.00,330.79 L510.50,330.90 L511.00,331.01 L511.50,331.12 L512.00,331.22 L512.50,331.33 L513.00,331.44 L513.50,331.55 L514.00,331.66 L514.50,331.77 L515.00,331.87 L515.50,331.98 L516.00,332.09 L516.50,332.19 L517.00,332.30 L517.50,332.41 L518.00,332.52 L518.50,332.62 L519.00,332.73 L519.50,332.84 L520.00,332.94 L520.50,333.05 L521.00,333.16 L521.50,333.26 L522.00,333.37 L522.50,333.48 L523.00,333.58 L523.50,333.69 L524.00,333.79 L524.50,333.90 L525.00,334.00 L525.50,334.11 L526.00,334.21 L526.50,334.31 L527.00,334.42 L527.50,334.52 L528.00,334.62 L528.50,334.72 L529.00,334.83 L529.50,334.93 L530.00,335.03 L530.50,335.13 L531.00,335.23 L531.50,335.33 L532.00,335.42 L532.50,335.52 L533.00,335.62 L533.50,335.71 L534.00,335.81 L534.50,335.91 L535.00,336.00 L535.50,336.09 L536.00,336.19 L536.50,336.28 L537.00,336.37 L537.50,336.46 L538.00,336.55 L538.50,336.64 L539.00,336.73 L539.50,336.81 L540.00,336.90 L540.50,336.99 L541.00,337.07 L541.50,337.15 L542.00,337.24 L542.50,337.32 L543.00,337.40 L543.50,337.48 L544.00,337.56 L544.50,337.65 L545.00,337.73 L545.50,337.80 L546.00,337.88 L546.50,337.96 L547.00,338.04 L547.50,338.12 L548.00,338.19 L548.50,338.27 L549.00,338.35 L549.50,338.42 L550.00,338.50 L550.50,338.57 L551.00,338.65 L551.50,338.72 L552.00,338.79 L552.50,338.87 L553.00,338.94 L553.50,339.01 L554.00,339.08 L554.50,339.15 L555.00,339.22 L555.50,339.29 L556.00,339.36 L556.50,339.43 L557.00,339.50 L557.50,339.57 L558.00,339.64 L558.50,339.71 L559.00,339.78 L559.50,339.85 L560.00,339.91 L560.50,339.98 L561.00,340.05 L561.50,340.11 L562.00,340.18 L562.50,340.25 L563.00,340.31 L563.50,340.38 L564.00,340.44 L564.50,340.51 L565.00,340.57 L565.50,340.64 L566.00,340.70 L566.50,340.76 L567.00,340.83 L567.50,340.89 L568.00,340.95 L568.50,341.01 L569.00,341.07 L569.50,341.14 L570.00,341.20 L570.50,341.26 L571.00,341.32 L571.50,341.38 L572.00,341.44 L572.50,341.50 L573.00,341.55 L573.50,341.61 L574.00,341.67 L574.50,341.73 L575.00,341.79 L575.50,341.84 L576.00,341.90 L576.50,341.96 L577.00,342.02 L577.50,342.07 L578.00,342.13 L578.50,342.19 L579.00,342.24 L579.50,342.30 L580.00,342.35 L580.50,342.41 L581.00,342.46 L581.50,342.52 L582.00,342.57 L582.50,342.63 L583.00,342.69 L583.50,342.74 L584.00,342.80 L584.50,342.85 L585.00,342.90 L585.50,342.96 L586.00,343.01 L586.50,343.07 L587.00,343.12 L587.50,343.18 L588.00,343.23 L588.50,343.29 L589.00,343.34 L589.50,343.40 L590.00,343.45 L590.50,343.51 L591.00,343.57 L591.50,343.62 L592.00,343.68 L592.50,343.73 L593.00,343.79 L593.50,343.85 L594.00,343.90 L594.50,343.96 L595.00,344.02 L595.50,344.08 L596.00,344.13 L596.50,344.19 L597.00,344.25 L597.50,344.31 L598.00,344.37 L598.50,344.43 L599.00,344.49 L599.50,344.55 L600.00,344.61 L600.50,344.66 L601.00,344.72 L601.50,344.78 L602.00,344.84 L602.50,344.90 L603.00,344.96 L603.50,345.02 L604.00,345.07 L604.50,345.13 L605.00,345.19 L605.50,345.25 L606.00,345.30 L606.50,345.36 L607.00,345.41 L607.50,345.47 L608.00,345.52 L608.50,345.58 L609.00,345.63 L609.50,345.69 L610.00,345.74 L610.50,345.79 L611.00,345.84 L611.50,345.89 L612.00,345.94 L612.50,345.99 L613.00,346.04 L613.50,346.09 L614.00,346.13 L614.50,346.18 L615.00,346.22 L615.50,346.26 L616.00,346.31 L616.50,346.35 L617.00,346.39 L617.50,346.43 L618.00,346.47 L618.50,346.50 L619.00,346.54 L619.50,346.58 L620.00,346.61 L620.50,346.65 L621.00,346.69 L621.50,346.72 L622.00,346.75 L622.50,346.79 L623.00,346.82 L623.50,346.85 L624.00,346.88 L624.50,346.92 L625.00,346.95 L625.50,346.98 L626.00,347.01 L626.50,347.04 L627.00,347.07 L627.50,347.10 L628.00,347.13 L628.50,347.16 L629.00,347.19 L629.50,347.22 L630.00,347.24 L630.50,347.27 L631.00,347.30 L631.50,347.33 L632.00,347.36 L632.50,347.39 L633.00,347.41 L633.50,347.44 L634.00,347.47 L634.50,347.50 L635.00,347.53 L635.50,347.56 L636.00,347.58 L636.50,347.61 L637.00,347.64 L637.50,347.67 L638.00,347.70 L638.50,347.73 L639.00,347.76 L639.50,347.79 L640.00,347.82 L640.50,347.85 L641.00,347.88 L641.50,347.91 L642.00,347.94 L642.50,347.98 L643.00,348.01 L643.50,348.04 L644.00,348.07 L644.50,348.10 L645.00,348.14 L645.50,348.17 L646.00,348.20 L646.50,348.23 L647.00,348.26 L647.50,348.30 L648.00,348.33 L648.50,348.36 L649.00,348.39 L649.50,348.43 L650.00,348.46 L650.50,348.49 L651.00,348.52 L651.50,348.56 L652.00,348.59 L652.50,348.62 L653.00,348.66 L653.50,348.69 L654.00,348.72 L654.50,348.75 L655.00,348.79 L655.50,348.82 L656.00,348.85 L656.50,348.88 L657.00,348.92 L657.50,348.95 L658.00,348.98 L658.50,349.01 L659.00,349.04 L659.50,349.08 L660.00,349.11 L660.50,349.14 L661.00,349.17 L661.50,349.20 L662.00,349.23 L662.50,349.27 L663.00,349.30 L663.50,349.33 L664.00,349.36 L664.50,349.39 L665.00,349.42 L665.50,349.45 L666.00,349.48 L666.50,349.51 L667.00,349.54 L667.50,349.57 L668.00,349.60 L668.50,349.63 L669.00,349.66 L669.50,349.69 L670.00,349.72 L670.50,349.75 L671.00,349.77 L671.50,349.80 L672.00,349.83 L672.50,349.86 L673.00,349.89 L673.50,349.92 L674.00,349.94 L674.50,349.97 L675.00,350.00 L675.50,350.03 L676.00,350.06 L676.50,350.08 L677.00,350.11 L677.50,350.14 L678.00,350.16 L678.50,350.19 L679.00,350.22 L679.50,350.24 L680.00,350.27 L680.50,350.30 L681.00,350.32 L681.50,350.35 L682.00,350.38 L682.50,350.40 L683.00,350.43 L683.50,350.45 L684.00,350.48 L684.50,350.50 L685.00,350.53 L685.50,350.55 L685.90,350.57" stroke="#00ff00" stroke-dasharray="7.96 3.98" stroke-dashoffset="2.6"/>
</g>
<g fill="none" stroke-width="1.2">
<path d="M570.3,33.4 L655.9,33.4" stroke="#00ffff" stroke-dasharray="9.95 3.98 1.99 3.98"/>
<path d="M570.3,53.35 L655.9,53.35" stroke="#ff00ff" stroke-dasharray="1.99 2.98"/>
<path d="M570.3,73.3 L655.9,73.3" stroke="#ff0000"/>
<path d="M570.3,93.2 L655.9,93.2" stroke="#000000" stroke-dasharray="3.98 3.98 3.98 7.96"/>
<path d="M570.3,113.1 L655.9,113.1" stroke="#00ff00" stroke-dasharray="7.96 3.98"/>
</g>
<circle cx="612.9" cy="93.2" r="3.1" fill="#000"/>
<g font-family="Liberation Serif, serif" fill="#000" stroke="#fff" stroke-width="0.3">
<text transform="translate(76.32,379.00) scale(0.980,1.040)" font-size="24px">0</text>
<text transform="translate(127.99,379.00) scale(0.980,1.040)" font-size="24px">0.1</text>
<text transform="translate(188.97,379.00) scale(0.980,1.040)" font-size="24px">0.2</text>
<text transform="translate(249.82,379.00) scale(0.980,1.040)" font-size="24px">0.3</text>
<text transform="translate(310.56,379.00) scale(0.980,1.040)" font-size="24px">0.4</text>
<text transform="translate(371.88,379.00) scale(0.980,1.040)" font-size="24px">0.5</text>
<text transform="translate(432.79,379.00) scale(0.980,1.040)" font-size="24px">0.6</text>
<text transform="translate(493.79,379.00) scale(0.980,1.040)" font-size="24px">0.7</text>
<text transform="translate(554.94,379.00) scale(0.980,1.040)" font-size="24px">0.8</text>
<text transform="translate(616.00,379.00) scale(0.980,1.040)" font-size="24px">0.9</text>
<text transform="translate(60.42,359.75) scale(0.980,1.030)" font-size="24px">0</text>
<text transform="translate(42.79,296.26) scale(0.980,1.030)" font-size="24px">0.2</text>
<text transform="translate(41.85,232.77) scale(0.980,1.030)" font-size="24px">0.4</text>
<text transform="translate(42.21,169.28) scale(0.980,1.030)" font-size="24px">0.6</text>
<text transform="translate(42.38,105.79) scale(0.980,1.030)" font-size="24px">0.8</text>
<text transform="translate(61.22,42.30) scale(0.860,1.030)" font-size="24px">1</text>
<text transform="translate(378.52,406.50) scale(0.983,0.880)" font-size="26px" font-style="italic">x</text>
</g>
<g font-family="Liberation Serif, serif" fill="#000" stroke="#fff" stroke-width="0.15">
<text transform="translate(477.50,37.80) scale(1.186,1.000)" font-size="16.8px" font-style="italic">C</text>
<text transform="translate(491.38,40.40) scale(1.188,1.000)" font-size="12.4px" font-style="italic">L</text>
<text transform="translate(501.29,40.40) scale(1.219,1.000)" font-size="12.4px" font-style="italic">L</text>
<path d="M516.50,32.05H528.20M516.50,36.15H528.20" stroke="#000" stroke-width="0.8" fill="none"/>
<path d="M534.80,34.10H545.50" stroke="#000" stroke-width="0.8" fill="none"/>
<text transform="translate(546.27,37.80) scale(1.068,1.000)" font-size="15.5px">4</text>
<text transform="translate(477.50,57.75) scale(1.186,1.000)" font-size="16.8px" font-style="italic">C</text>
<text transform="translate(491.38,60.35) scale(1.188,1.000)" font-size="12.4px" font-style="italic">L</text>
<text transform="translate(501.29,60.35) scale(1.219,1.000)" font-size="12.4px" font-style="italic">L</text>
<path d="M516.50,52.00H528.20M516.50,56.10H528.20" stroke="#000" stroke-width="0.8" fill="none"/>
<path d="M534.80,54.05H545.50" stroke="#000" stroke-width="0.8" fill="none"/>
<text transform="translate(545.79,57.75) scale(1.234,1.000)" font-size="15.5px">2</text>
<text transform="translate(490.50,77.70) scale(1.186,1.000)" font-size="16.8px" font-style="italic">C</text>
<text transform="translate(504.38,80.30) scale(1.188,1.000)" font-size="12.4px" font-style="italic">L</text>
<text transform="translate(514.29,80.30) scale(1.219,1.000)" font-size="12.4px" font-style="italic">L</text>
<path d="M529.50,71.95H541.20M529.50,76.05H541.20" stroke="#000" stroke-width="0.8" fill="none"/>
<text transform="translate(545.92,77.70) scale(1.169,1.000)" font-size="15.5px">0</text>
<text transform="translate(490.50,97.60) scale(1.186,1.000)" font-size="16.8px" font-style="italic">C</text>
<text transform="translate(504.38,100.20) scale(1.188,1.000)" font-size="12.4px" font-style="italic">L</text>
<text transform="translate(514.29,100.20) scale(1.219,1.000)" font-size="12.4px" font-style="italic">L</text>
<path d="M529.50,91.85H541.20M529.50,95.95H541.20" stroke="#000" stroke-width="0.8" fill="none"/>
<text transform="translate(546.27,97.60) scale(1.068,1.000)" font-size="15.5px">4</text>
<text transform="translate(490.50,117.50) scale(1.186,1.000)" font-size="16.8px" font-style="italic">C</text>
<text transform="translate(504.38,120.10) scale(1.188,1.000)" font-size="12.4px" font-style="italic">L</text>
<text transform="translate(514.29,120.10) scale(1.219,1.000)" font-size="12.4px" font-style="italic">L</text>
<path d="M529.50,111.75H541.20M529.50,115.85H541.20" stroke="#000" stroke-width="0.8" fill="none"/>
<text transform="translate(545.79,117.50) scale(1.234,1.000)" font-size="15.5px">2</text>
</g>
<g transform="translate(23.4,336.0) rotate(-90)" font-family="Liberation Serif, serif" fill="#000" stroke="#fff" stroke-width="0.3">
<text transform="translate(-0.94,0.00) scale(0.827,1.030)" font-size="24px">1</text>
<text transform="translate(10.74,0.00) scale(0.951,1.030)" font-size="24px">0</text>
<text transform="translate(22.17,-9.20) scale(0.994,1.000)" font-size="16.8px">8</text>
<path d="M40.8,-1.2L52.2,-12.6M40.8,-12.6L52.2,-1.2" stroke="#000" stroke-width="0.95" fill="none"/>
<text transform="translate(60.16,0.00) scale(0.971,1.000)" font-size="25.5px" font-style="italic">d</text>
<text transform="translate(73.82,0.00) scale(1.068,1.000)" font-size="26px" font-style="italic">B</text>
<text transform="translate(92.14,0.00) scale(1.103,1.000)" font-size="26px" font-style="italic">R</text>
<text transform="translate(109.57,-9.60) scale(0.963,1.000)" font-size="17.75px">(</text>
<text transform="translate(115.47,-9.20) scale(1.020,1.000)" font-size="16.8px">2</text>
<text transform="translate(124.44,-9.60) scale(0.963,1.000)" font-size="17.75px">)</text>
<text transform="translate(133.41,0.20) scale(0.777,1.000)" font-size="27px">(</text>
<text transform="translate(142.32,0.00) scale(1.074,1.000)" font-size="26px" font-style="italic">B</text>
<path d="M167.9,-7H188.2" stroke="#000" stroke-width="0.95" fill="none"/>
<path d="M183.8,-11.0C184.7,-9.1 186.4,-7.6 188.7,-7C186.4,-6.4 184.7,-4.9 183.8,-3.0" stroke="#000" stroke-width="0.95" fill="none" stroke-linecap="round"/>
<path d="M197.3,-7.0C198.2,-9.8 199.8,-11.3 201.8,-11.3C204.3,-11.3 205.8,-8.5 207.2,-4.6" stroke="#000" stroke-width="1.3" fill="none" stroke-linecap="round"/>
<path d="M209.7,-11.2L204.4,3.6" stroke="#000" stroke-width="0.85" fill="none" stroke-linecap="round"/>
<text transform="translate(214.80,-0.30) scale(1.059,1.000)" font-size="24.5px" font-style="italic">μ</text>
<path d="M229,-13.75H240.2M234.6,-19.35V-8.15" stroke="#000" stroke-width="0.9" fill="none"/>
<text transform="translate(246.90,-0.30) scale(1.086,1.000)" font-size="24.5px" font-style="italic">μ</text>
<path d="M261.6,-14H271.8" stroke="#000" stroke-width="0.9" fill="none"/>
<text transform="translate(274.68,0.20) scale(0.820,1.000)" font-size="27px">)</text>
<path d="M284.4,5L292.9,-18.5" stroke="#000" stroke-width="0.95" fill="none"/>
<text transform="translate(295.01,0.00) scale(0.905,1.000)" font-size="25.5px" font-style="italic">d</text>
<text transform="translate(307.73,0.00) scale(1.026,0.900)" font-size="26px" font-style="italic">x</text>
</g>
</svg>
</body></html>
